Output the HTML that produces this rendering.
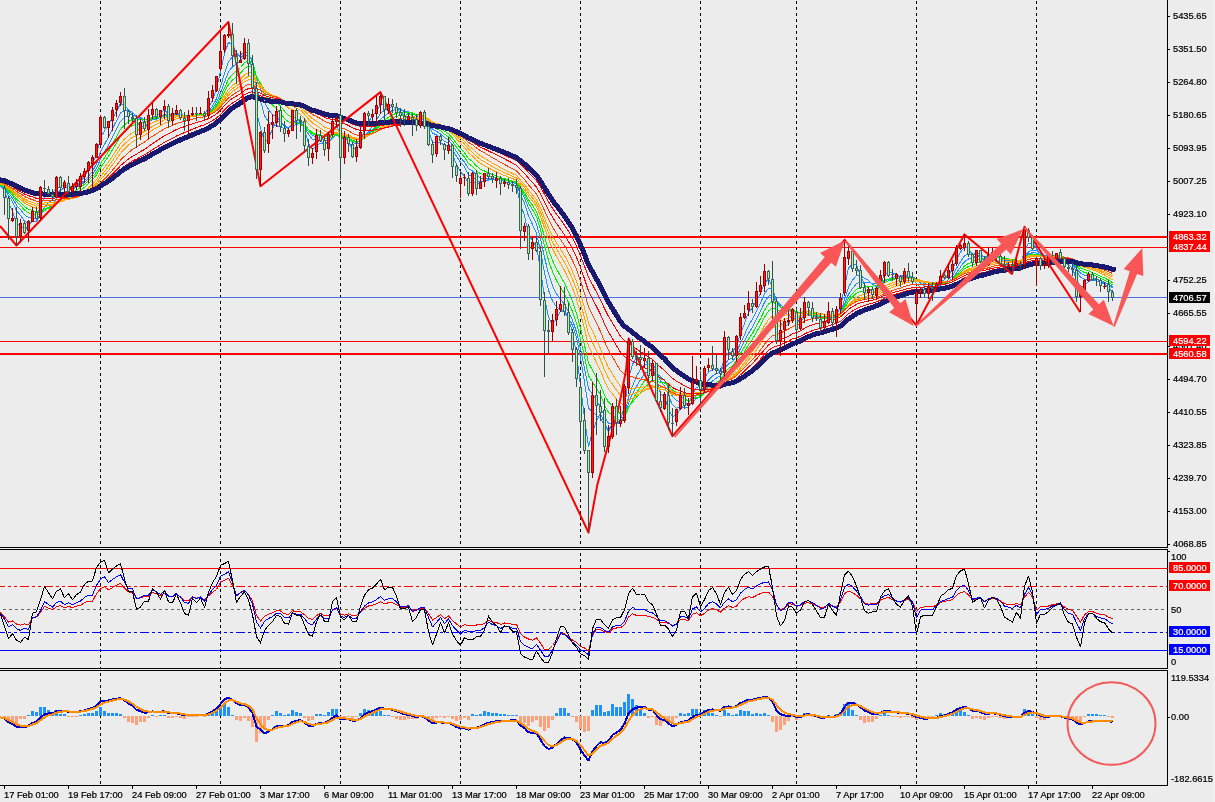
<!DOCTYPE html>
<html><head><meta charset="utf-8"><title>Chart</title>
<style>html,body{margin:0;padding:0;background:#ececec;overflow:hidden}svg{display:block}</style></head>
<body>
<svg width="1215" height="802" viewBox="0 0 1215 802" font-family="'Liberation Sans', Arial, sans-serif" font-size="9.3px">
<rect width="1215" height="802" fill="#ececec"/>
<g stroke="#000" stroke-width="1" stroke-dasharray="3 3" fill="none" shape-rendering="crispEdges">
<path d="M100.5 1V547M100.5 553V668M100.5 673V785"/>
<path d="M220.5 1V547M220.5 553V668M220.5 673V785"/>
<path d="M340.5 1V547M340.5 553V668M340.5 673V785"/>
<path d="M460.5 1V547M460.5 553V668M460.5 673V785"/>
<path d="M580.5 1V547M580.5 553V668M580.5 673V785"/>
<path d="M700.5 1V547M700.5 553V668M700.5 673V785"/>
<path d="M796.5 1V547M796.5 553V668M796.5 673V785"/>
<path d="M916.5 1V547M916.5 553V668M916.5 673V785"/>
<path d="M1036.5 1V547M1036.5 553V668M1036.5 673V785"/>
</g>
<g shape-rendering="crispEdges">
<rect x="0" y="297" width="1167" height="1" fill="#4a6fe0"/>
<rect x="0" y="236" width="1167" height="2" fill="#f00"/>
<rect x="0" y="247" width="1167" height="1" fill="#f00"/>
<rect x="0" y="341" width="1167" height="1" fill="#f00"/>
<rect x="0" y="353" width="1167" height="2" fill="#f00"/>
</g>
<path d="M-3.5 185L0.5 186.2L4.5 190.6L8.5 202.9L12.5 211.2L16.5 223.8L20.5 225.8L24.5 229.3L28.5 226.6L32.5 219.6L36.5 218.2L40.5 204.7L44.5 196.7L48.5 193.7L52.5 193.4L56.5 187.5L60.5 186.9L64.5 184.1L68.5 186.5L72.5 187.2L76.5 185.8L80.5 181.9L84.5 176.5L88.5 169.8L92.5 163.4L96.5 154.6L100.5 137.8L104.5 131.1L108.5 124.9L112.5 117.8L116.5 111.5L120.5 103.6L124.5 105.1L128.5 109.9L132.5 114.7L136.5 124.4L140.5 124.9L144.5 127.3L148.5 122.9L152.5 116.5L156.5 115.6L160.5 112.7L164.5 110L168.5 114.2L172.5 114.1L176.5 113.1L180.5 115.1L184.5 117.3L188.5 117.2L192.5 116L196.5 114.9L200.5 113.6L204.5 114.6L208.5 108.3L212.5 100.3L216.5 89L220.5 71.4L224.5 53.7L228.5 42.2L232.5 45L236.5 52.7L240.5 57.9L244.5 53.8L248.5 57.2L252.5 69.4L256.5 111.8L260.5 127.8L264.5 142.7L268.5 138.2L272.5 129.3L276.5 121L280.5 121.1L284.5 126.3L288.5 128.8L292.5 122.6L296.5 120.7L300.5 119.8L304.5 130L308.5 143.2L312.5 149.7L316.5 145.8L320.5 143.1L324.5 144.5L328.5 140.3L332.5 132.9L336.5 125.3L340.5 136L344.5 137.6L348.5 141.9L352.5 149.1L356.5 148.4L360.5 142.5L364.5 129.8L368.5 121.5L372.5 116.2L376.5 110.9L380.5 104.4L384.5 105.4L388.5 104.6L392.5 105.8L396.5 109.1L400.5 112.2L404.5 116L408.5 116.9L412.5 118.2L416.5 121.6L420.5 118.1L424.5 121.4L428.5 130.9L432.5 141.9L436.5 142.7L440.5 142.7L444.5 145.2L448.5 145.1L452.5 154.4L456.5 164.5L460.5 172.1L464.5 176.1L468.5 184.1L472.5 180.9L476.5 184.2L480.5 183.8L484.5 179.2L488.5 178.3L492.5 177.8L496.5 177.8L500.5 180.4L504.5 181.2L508.5 183L512.5 184.5L516.5 186L520.5 204.3L524.5 215.7L528.5 234.2L532.5 241.2L536.5 246.5L540.5 269.3L544.5 296.9L548.5 317.4L552.5 323.7L556.5 319L560.5 311.4L564.5 309.7L568.5 318.4L572.5 332.6L576.5 354.2L580.5 385.6L584.5 417.6L588.5 446.6L592.5 432.1L596.5 420.7L600.5 413.5L604.5 423.4L608.5 431.7L612.5 424L616.5 423.1L620.5 419.9L624.5 405.9L628.5 378.6L632.5 364.4L636.5 357.1L640.5 357.1L644.5 358.8L648.5 365.6L652.5 365.8L656.5 380.5L660.5 393.7L664.5 396.7L668.5 409.3L672.5 416.4L676.5 415.2L680.5 408L684.5 405.1L688.5 403L692.5 394.5L696.5 387.4L700.5 386.4L704.5 378.1L708.5 372.1L712.5 369.5L716.5 368.9L720.5 371L724.5 357.9L728.5 353L732.5 352.3L736.5 345L740.5 334L744.5 323.3L748.5 312.3L752.5 308L756.5 300.5L760.5 293.1L764.5 283L768.5 279.1L772.5 287.1L776.5 309.9L780.5 322.7L784.5 325.9L788.5 324.5L792.5 316.9L796.5 321L800.5 320.3L804.5 313.3L808.5 310.6L812.5 311.8L816.5 314.9L820.5 321.2L824.5 322.3L828.5 318.2L832.5 319.4L836.5 314.8L840.5 307.7L844.5 286.4L848.5 268.1L852.5 264.1L856.5 264.9L860.5 275.4L864.5 284.8L868.5 288.3L872.5 292.3L876.5 291L880.5 284.5L884.5 274.7L888.5 272.8L892.5 272.8L896.5 273.8L900.5 277.6L904.5 275.4L908.5 276.4L912.5 278.5L916.5 283.9L920.5 287.2L924.5 290.8L928.5 290.2L932.5 289.6L936.5 287.2L940.5 282L944.5 279.6L948.5 274.8L952.5 269.6L956.5 260L960.5 252.2L964.5 246.7L968.5 248.5L972.5 254.7L976.5 254.3L980.5 258L984.5 260.8L988.5 259L992.5 256.5L996.5 255.9L1000.5 258.6L1004.5 262.3L1008.5 264.2L1012.5 265.2L1016.5 264.4L1020.5 264.6L1024.5 250.4L1028.5 243.2L1032.5 243.2L1036.5 248.4L1040.5 257.2L1044.5 261.7L1048.5 260.2L1052.5 258.4L1056.5 255.7L1060.5 256.4L1064.5 260.9L1068.5 264.9L1072.5 267.9L1076.5 280.1L1080.5 286.4L1084.5 285.9L1088.5 281.6L1092.5 279.3L1096.5 278.9L1100.5 282L1104.5 284.3L1108.5 287.7L1112.5 292.3" stroke="#1e90ff" stroke-width="1" fill="none" stroke-linejoin="round" shape-rendering="crispEdges"/>
<path d="M-3.5 185.3L0.5 186L4.5 188.6L8.5 195.6L12.5 201.5L16.5 210.7L20.5 215.3L24.5 221.3L28.5 223.2L32.5 221.8L36.5 221.5L40.5 213.6L44.5 207.1L48.5 202.5L52.5 199.6L56.5 193.1L60.5 190.4L64.5 187.5L68.5 187.5L72.5 187.2L76.5 186.1L80.5 183.6L84.5 180.5L88.5 176.2L92.5 171.1L96.5 164L100.5 151.9L104.5 144.4L108.5 136.9L112.5 128.6L116.5 120.7L120.5 113L124.5 110.6L128.5 110.8L132.5 112.1L136.5 117L140.5 118.7L144.5 122.1L148.5 121.8L152.5 119.8L156.5 119.1L160.5 116.9L164.5 113.9L168.5 114.6L172.5 114L176.5 112.9L180.5 114L184.5 115.8L188.5 115.9L192.5 115.7L196.5 115.5L200.5 114.8L204.5 115.2L208.5 111.4L212.5 106.2L216.5 98.7L220.5 86.8L224.5 73.1L228.5 61.5L232.5 56.9L236.5 55.5L240.5 54.9L244.5 51.5L248.5 54.1L252.5 62.4L256.5 87.9L260.5 100.9L264.5 115.6L268.5 121.7L272.5 125.7L276.5 125.6L280.5 127.1L284.5 128.4L288.5 127.5L292.5 123.4L296.5 122.1L300.5 122L304.5 127.2L308.5 134.5L312.5 139.3L316.5 139.5L320.5 140.9L324.5 144.2L328.5 142.8L332.5 138.1L336.5 132.7L340.5 136.9L344.5 136.4L348.5 138.1L352.5 142.3L356.5 144L360.5 142.2L364.5 136.4L368.5 131.6L372.5 126.3L376.5 120.3L380.5 113L384.5 110.3L388.5 107.6L392.5 106.6L396.5 107.6L400.5 109.4L404.5 111.9L408.5 113.5L412.5 115.6L416.5 118.5L420.5 117.6L424.5 120L428.5 125.8L432.5 133L436.5 135L440.5 137.5L444.5 141.4L448.5 143.4L452.5 149.6L456.5 156.3L460.5 162.2L464.5 166.8L468.5 174.7L472.5 176.3L476.5 180.5L480.5 182.1L484.5 180.8L488.5 180L492.5 179.7L496.5 179.1L500.5 179.7L504.5 180.1L508.5 181.2L512.5 182.4L516.5 184L520.5 194.8L524.5 203L528.5 216.1L532.5 224.5L536.5 233.3L540.5 251.1L544.5 272.5L548.5 290.1L552.5 300.9L556.5 306.9L560.5 309.5L564.5 312.4L568.5 318.1L572.5 325.3L576.5 337.5L580.5 357.9L584.5 382.3L588.5 408L592.5 411.8L596.5 415.6L600.5 418.3L604.5 426.2L608.5 429.1L612.5 423.8L616.5 422.6L620.5 421.5L624.5 414.4L628.5 397.5L632.5 385.9L636.5 376.1L640.5 369.3L644.5 364.2L648.5 364.2L652.5 362.8L656.5 371.4L660.5 381L664.5 385.9L668.5 396L672.5 404.7L676.5 408.2L680.5 407.1L684.5 407.9L688.5 406.9L692.5 401.1L696.5 395.4L700.5 392.5L704.5 385.7L708.5 379.8L712.5 376L716.5 373.4L720.5 372.3L724.5 363.9L728.5 359.8L732.5 357.7L736.5 352.1L740.5 343.3L744.5 334.8L748.5 325.7L752.5 319.2L756.5 311.2L760.5 303.1L764.5 293.7L768.5 288.3L772.5 289.5L776.5 300.1L780.5 307.3L784.5 311.8L788.5 315.7L792.5 316.4L796.5 321.1L800.5 321.5L804.5 317.2L808.5 314.2L812.5 314.3L816.5 315L820.5 317.7L824.5 318.7L828.5 317.1L832.5 318.7L836.5 317.1L840.5 312.9L844.5 299.8L848.5 287.1L852.5 280.3L856.5 275.5L860.5 275.9L864.5 278.1L868.5 280.2L872.5 284.3L876.5 286.8L880.5 285.6L884.5 280.9L888.5 279.3L892.5 277.6L896.5 275.9L900.5 276.4L904.5 274.8L908.5 275.4L912.5 277L916.5 280.7L920.5 283L924.5 286L928.5 287.1L932.5 288.1L936.5 287.9L940.5 285.4L944.5 283.5L948.5 279.8L952.5 275.5L956.5 268.3L960.5 261.8L964.5 255.9L968.5 254L972.5 254.7L976.5 253L980.5 254.6L984.5 257L988.5 257.4L992.5 256.8L996.5 257.1L1000.5 258.5L1004.5 260.2L1008.5 261.5L1012.5 262.6L1016.5 263L1020.5 263.9L1024.5 256.6L1028.5 251.8L1032.5 250L1036.5 250.7L1040.5 253.3L1044.5 255.4L1048.5 255.7L1052.5 256.4L1056.5 256.8L1060.5 257.7L1064.5 259.9L1068.5 261.9L1072.5 263.8L1076.5 271.5L1080.5 277.2L1084.5 279.5L1088.5 279.6L1092.5 280.4L1096.5 280.8L1100.5 282.3L1104.5 283L1108.5 284.6L1112.5 287.7" stroke="#1e90ff" stroke-width="1" fill="none" stroke-linejoin="round" shape-rendering="crispEdges"/>
<path d="M-3.5 185.1L0.5 185.6L4.5 187.7L8.5 193.1L12.5 197.9L16.5 205.2L20.5 209.5L24.5 214.8L28.5 217.5L32.5 217.9L36.5 219.2L40.5 214.8L44.5 210.7L48.5 207.4L52.5 204.5L56.5 198.7L60.5 195.3L64.5 191.8L68.5 190.4L72.5 188.8L76.5 187.2L80.5 184.8L84.5 182.3L88.5 178.5L92.5 174.3L96.5 168.5L100.5 158.9L104.5 152.1L108.5 145.1L112.5 137.1L116.5 129.2L120.5 121.3L124.5 117.4L128.5 115.4L132.5 114.5L136.5 116.9L140.5 117.5L144.5 119.6L148.5 119.3L152.5 118.1L156.5 118.4L160.5 117.4L164.5 115.8L168.5 116.4L172.5 115.6L176.5 114.3L180.5 114.4L184.5 115.3L188.5 115.3L192.5 115.1L196.5 115.1L200.5 114.8L204.5 115.2L208.5 112.4L212.5 108.5L216.5 102.6L220.5 93.2L224.5 82L228.5 71.9L232.5 66.7L236.5 63.7L240.5 60.9L244.5 56.1L248.5 55.8L252.5 60.3L256.5 78.6L260.5 89.3L264.5 102.3L268.5 109.4L272.5 114.8L276.5 117L280.5 121.1L284.5 125.4L288.5 127.8L292.5 125.7L296.5 124.6L300.5 123.1L304.5 126.5L308.5 131.6L312.5 135.7L316.5 136.5L320.5 138.1L324.5 140.7L328.5 140.4L332.5 137.9L336.5 134.9L340.5 138.5L344.5 138L348.5 138.6L352.5 141.3L356.5 142.4L360.5 140.9L364.5 136.5L368.5 133L372.5 129.6L376.5 125.1L380.5 119.3L384.5 116.2L388.5 112.8L392.5 110.3L396.5 109.4L400.5 109.7L404.5 111.1L408.5 112L412.5 113.5L416.5 116L420.5 116L424.5 118.3L428.5 123.2L432.5 129.2L436.5 131.4L440.5 133.9L444.5 137.6L448.5 139.8L452.5 145.3L456.5 151.5L460.5 157.4L464.5 162.1L468.5 168.8L472.5 170.9L476.5 175.3L480.5 178L484.5 178.5L488.5 179.2L492.5 179.7L496.5 179.6L500.5 180.2L504.5 180.4L508.5 181.1L512.5 181.8L516.5 182.9L520.5 191L524.5 197.7L528.5 208.3L532.5 215.8L536.5 223.9L540.5 239L544.5 257.4L548.5 273.7L552.5 285.7L556.5 293.8L560.5 299.3L564.5 304.3L568.5 311.6L572.5 320.1L576.5 331.9L580.5 348.9L584.5 368.1L588.5 388.7L592.5 394.2L596.5 400.6L600.5 406.9L604.5 417.1L608.5 423.4L612.5 422.9L616.5 424.1L620.5 423.6L624.5 416.9L628.5 403.2L632.5 393.8L636.5 386.3L640.5 379.8L644.5 373.6L648.5 371.2L652.5 367.8L656.5 371.8L660.5 376.9L664.5 380.1L668.5 388.5L672.5 396.5L676.5 400.7L680.5 401.7L684.5 404L688.5 405.2L692.5 402.2L696.5 398.5L700.5 396.4L704.5 390.9L708.5 385.4L712.5 381L716.5 377.9L720.5 375.9L724.5 368.4L728.5 364L732.5 361.5L736.5 356.2L740.5 348.6L744.5 341.2L748.5 333.4L752.5 327L756.5 319L760.5 311.2L764.5 302.3L768.5 296.2L772.5 294.8L776.5 300.8L780.5 305.1L784.5 308L788.5 310.7L792.5 311.5L796.5 315.6L800.5 317.5L804.5 316.2L808.5 315.7L812.5 316.2L816.5 316.4L820.5 317.7L824.5 318.1L828.5 317L832.5 318L836.5 316.7L840.5 313.5L844.5 304L848.5 294.4L852.5 288.6L856.5 283.6L860.5 282.3L864.5 282.3L868.5 282.1L872.5 283.5L876.5 283.9L880.5 282.6L884.5 279.8L888.5 279.7L892.5 279.2L896.5 278.3L900.5 278.4L904.5 276.7L908.5 276.4L912.5 276.8L916.5 279.1L920.5 281L924.5 283.7L928.5 285L932.5 286.2L936.5 286.4L940.5 285L944.5 284L948.5 281.7L952.5 278.4L956.5 272.7L960.5 267L964.5 261.7L968.5 259L972.5 258.3L976.5 255.9L980.5 256L984.5 256.9L988.5 256.4L992.5 255.7L996.5 256L1000.5 257.7L1004.5 259.5L1008.5 260.7L1012.5 261.7L1016.5 262.1L1020.5 262.9L1024.5 257.5L1028.5 254L1032.5 252.7L1036.5 253.1L1040.5 254.7L1044.5 255.8L1048.5 255.5L1052.5 255.5L1056.5 255.2L1060.5 256L1064.5 258.2L1068.5 260.7L1072.5 262.7L1076.5 268.7L1080.5 273.2L1084.5 275.2L1088.5 276L1092.5 277.6L1096.5 278.9L1100.5 280.9L1104.5 282.2L1108.5 284.1L1112.5 286.7" stroke="#1e90ff" stroke-width="1" fill="none" stroke-linejoin="round" shape-rendering="crispEdges"/>
<path d="M-3.5 184.8L0.5 185.3L4.5 187L8.5 191.5L12.5 195.5L16.5 201.6L20.5 205.4L24.5 210.2L28.5 212.8L32.5 213.8L36.5 215.6L40.5 212.8L44.5 210.3L48.5 208.5L52.5 206.9L56.5 202.6L60.5 199.7L64.5 196.3L68.5 194.4L72.5 192.2L76.5 190L80.5 187.2L84.5 184.2L88.5 180.6L92.5 176.8L96.5 171.9L100.5 163.6L104.5 157.7L108.5 151.4L112.5 144.2L116.5 136.9L120.5 129.4L124.5 124.7L128.5 121.6L132.5 119.4L136.5 120L140.5 119.1L144.5 119.8L148.5 118.8L152.5 117.5L156.5 117.5L160.5 116.7L164.5 115.5L168.5 116.4L172.5 116.1L176.5 115.4L180.5 115.5L184.5 116L188.5 115.7L192.5 115.2L196.5 114.9L200.5 114.6L204.5 114.9L208.5 112.8L212.5 109.7L216.5 105L220.5 97.3L224.5 87.9L228.5 79.3L232.5 74.4L236.5 70.9L240.5 67.5L244.5 62.5L248.5 60.9L252.5 63L256.5 76.2L260.5 83.8L264.5 93.8L268.5 99.7L272.5 105L276.5 108.4L280.5 113.5L284.5 118.5L288.5 122L292.5 122.2L296.5 123.4L300.5 124.1L304.5 127.3L308.5 131.3L312.5 133.9L316.5 134.4L320.5 135.6L324.5 138.2L328.5 138.4L332.5 136.7L336.5 134.5L340.5 137.7L344.5 137.8L348.5 139L352.5 141.4L356.5 142.3L360.5 140.8L364.5 137L368.5 134L372.5 131.1L376.5 127.2L380.5 122.5L384.5 120.1L388.5 117.2L392.5 114.8L396.5 113.2L400.5 112.6L404.5 112.6L408.5 112.4L412.5 113L416.5 114.7L420.5 114.6L424.5 116.5L428.5 120.7L432.5 126L436.5 128.3L440.5 130.8L444.5 134.3L448.5 136.7L452.5 141.6L456.5 147.2L460.5 152.5L464.5 157.1L468.5 163.5L472.5 166.3L476.5 170.8L480.5 173.6L484.5 174.8L488.5 176.1L492.5 177.6L496.5 178.4L500.5 179.6L504.5 180.2L508.5 181L512.5 181.7L516.5 182.6L520.5 189.1L524.5 194.4L528.5 203.1L532.5 209.6L536.5 216.7L540.5 229.8L544.5 245.7L548.5 260.3L552.5 271.8L556.5 280.5L560.5 287.4L564.5 294.1L568.5 302.4L572.5 311.6L576.5 323.1L580.5 339L584.5 356.8L588.5 375.7L592.5 382L596.5 388.5L600.5 394.9L604.5 404.9L608.5 412.5L612.5 415L616.5 418.8L620.5 421L624.5 417.7L628.5 407.9L632.5 400.2L636.5 392.9L640.5 386.6L644.5 380.8L648.5 378.5L652.5 374.6L656.5 376.3L660.5 378.9L664.5 380.1L668.5 385.6L672.5 391L676.5 394.4L680.5 396L684.5 399L688.5 401L692.5 399.8L696.5 397.9L700.5 397.3L704.5 393.4L708.5 389.2L712.5 385.6L716.5 382.5L720.5 380.1L724.5 373.1L728.5 368.6L732.5 365.7L736.5 360.5L740.5 353.4L744.5 346.7L748.5 339.4L752.5 333.4L756.5 325.9L760.5 318.7L764.5 310.3L768.5 303.9L772.5 301.3L776.5 304.7L780.5 306.9L784.5 308L788.5 309.2L792.5 309.3L796.5 312.5L800.5 314L804.5 313.2L808.5 313.3L812.5 314.6L816.5 315.9L820.5 318L824.5 318.6L828.5 317.6L832.5 317.9L836.5 316.7L840.5 314.2L844.5 306.4L848.5 298.4L852.5 293.4L856.5 289.2L860.5 287.7L864.5 287.1L868.5 286.1L872.5 286.1L876.5 285.5L880.5 283.5L884.5 280.2L888.5 279.1L892.5 278.5L896.5 278L900.5 278.8L904.5 277.9L908.5 277.8L912.5 278L916.5 279.4L920.5 280.5L924.5 282.3L928.5 283.2L932.5 284.3L936.5 284.8L940.5 284.1L944.5 283.6L948.5 281.9L952.5 279.5L956.5 275L960.5 270.6L964.5 266.1L968.5 263.4L972.5 262.2L976.5 259.5L980.5 258.8L984.5 258.7L988.5 257.6L992.5 256.4L996.5 256.1L1000.5 256.9L1004.5 258.2L1008.5 259.4L1012.5 260.6L1016.5 261.3L1020.5 262.1L1024.5 257.9L1028.5 255.1L1032.5 254L1036.5 254.3L1040.5 255.5L1044.5 256.4L1048.5 256.2L1052.5 256L1056.5 255.5L1060.5 255.8L1064.5 257.3L1068.5 259L1072.5 260.7L1076.5 266L1080.5 270.3L1084.5 272.5L1088.5 273.5L1092.5 274.9L1096.5 276.3L1100.5 278.4L1104.5 280.1L1108.5 282.3L1112.5 285" stroke="#00f000" stroke-width="1" fill="none" stroke-linejoin="round" shape-rendering="crispEdges"/>
<path d="M-3.5 184.4L0.5 184.9L4.5 186.5L8.5 190.2L12.5 193.7L16.5 199L20.5 202.4L24.5 206.6L28.5 209.2L32.5 210.4L36.5 212.2L40.5 210.4L44.5 208.8L48.5 207.6L52.5 206.8L56.5 203.6L60.5 201.7L64.5 199.2L68.5 197.7L72.5 195.7L76.5 193.3L80.5 190.4L84.5 187.3L88.5 183.6L92.5 179.7L96.5 174.9L100.5 167.5L104.5 162L108.5 156.3L112.5 149.8L116.5 143.1L120.5 136.1L124.5 131.6L128.5 128.1L132.5 125.2L136.5 124.6L140.5 122.8L144.5 122.3L148.5 120.6L152.5 118.7L156.5 117.9L160.5 116.8L164.5 115.5L168.5 116.1L172.5 115.8L176.5 115.3L180.5 115.6L184.5 116.3L188.5 116.3L192.5 115.8L196.5 115.5L200.5 115L204.5 115L208.5 113.1L212.5 110.4L216.5 106.4L220.5 100L224.5 92L228.5 84.6L232.5 80.1L236.5 76.7L240.5 73.3L244.5 68.4L248.5 66.3L252.5 67.1L256.5 77.3L260.5 82.9L264.5 90.4L268.5 94.8L272.5 98.8L276.5 101.6L280.5 106.1L284.5 111.2L288.5 115.4L292.5 116.8L296.5 119L300.5 120.7L304.5 124.6L308.5 129.4L312.5 132.9L316.5 133.8L320.5 134.8L324.5 136.5L328.5 136.6L332.5 135.3L336.5 133.7L340.5 136.7L344.5 137L348.5 138.1L352.5 140.4L356.5 141.5L360.5 140.7L364.5 137.8L368.5 135.3L372.5 132.5L376.5 129L380.5 124.8L384.5 122.6L388.5 119.9L392.5 117.7L396.5 116.4L400.5 115.6L404.5 115.3L408.5 114.5L412.5 114.4L416.5 115.2L420.5 114.4L424.5 115.7L428.5 119L432.5 123.4L436.5 125.5L440.5 127.9L444.5 131.3L448.5 133.7L452.5 138.2L456.5 143.4L460.5 148.4L464.5 152.7L468.5 158.6L472.5 161.6L476.5 166L480.5 169.2L484.5 171L488.5 172.9L492.5 174.6L496.5 175.8L500.5 177.5L504.5 178.7L508.5 180L512.5 181.1L516.5 182.1L520.5 187.7L524.5 192.3L528.5 199.7L532.5 205.3L536.5 211.5L540.5 222.8L544.5 236.6L548.5 249.7L552.5 260.4L556.5 268.9L560.5 276.1L564.5 283.2L568.5 291.9L572.5 301.5L576.5 313.1L580.5 328.3L584.5 345.2L588.5 362.8L592.5 370.1L596.5 377.7L600.5 385L604.5 394.9L608.5 402.3L612.5 405.5L616.5 410.2L620.5 413.8L624.5 413.1L628.5 406.9L632.5 402.1L636.5 397.2L640.5 392.4L644.5 387.3L648.5 384.2L652.5 380.1L656.5 380.8L660.5 382.6L664.5 382.9L668.5 386.5L672.5 390.1L676.5 392.2L680.5 392.9L684.5 394.9L688.5 396.7L692.5 396.2L696.5 395.4L700.5 395.6L704.5 393.2L708.5 390.3L712.5 387.8L716.5 385.6L720.5 383.6L724.5 377.5L728.5 373.3L732.5 370.1L736.5 365L740.5 358.3L744.5 351.9L748.5 345L752.5 339L756.5 332.1L760.5 325.1L764.5 317.3L768.5 311L772.5 308L776.5 309.8L780.5 310.5L784.5 310.4L788.5 310.6L792.5 309.9L796.5 311.8L800.5 312.4L804.5 311.5L808.5 311.5L812.5 312.6L816.5 313.9L820.5 315.9L824.5 317.1L828.5 317.1L832.5 318.1L836.5 317.3L840.5 315L844.5 308.2L848.5 301.3L852.5 296.9L856.5 293.1L860.5 291.5L864.5 290.6L868.5 289.5L872.5 289.3L876.5 288.3L880.5 286L884.5 282.5L888.5 280.9L892.5 279.7L896.5 278.6L900.5 278.5L904.5 277.6L908.5 277.7L912.5 278.3L916.5 279.8L920.5 280.8L924.5 282.3L928.5 282.8L932.5 283.5L936.5 283.7L940.5 283L944.5 282.7L948.5 281.5L952.5 279.7L956.5 276.2L960.5 272.5L964.5 268.7L968.5 266.5L972.5 265.4L976.5 262.9L980.5 261.9L984.5 261.3L988.5 259.8L992.5 258.3L996.5 257.5L1000.5 257.7L1004.5 258.3L1008.5 258.9L1012.5 259.6L1016.5 260.2L1020.5 261L1024.5 257.8L1028.5 255.7L1032.5 254.9L1036.5 255L1040.5 256L1044.5 256.8L1048.5 256.5L1052.5 256.4L1056.5 256L1060.5 256.2L1064.5 257.3L1068.5 258.5L1072.5 259.8L1076.5 264.1L1080.5 267.6L1084.5 269.6L1088.5 270.9L1092.5 272.7L1096.5 274.3L1100.5 276.2L1104.5 277.9L1108.5 280L1112.5 282.6" stroke="#00f000" stroke-width="1" fill="none" stroke-linejoin="round" shape-rendering="crispEdges"/>
<path d="M-3.5 183.9L0.5 184.4L4.5 185.7L8.5 188.9L12.5 191.8L16.5 196.3L20.5 199.3L24.5 203L28.5 205.4L32.5 206.6L36.5 208.5L40.5 207.3L44.5 206.4L48.5 205.8L52.5 205.4L56.5 203.2L60.5 201.9L64.5 200.2L68.5 199.3L72.5 198L76.5 196.4L80.5 194.1L84.5 191.4L88.5 187.9L92.5 184.2L96.5 179.6L100.5 172.8L104.5 167.5L108.5 162L112.5 156L116.5 149.8L120.5 143.5L124.5 139.1L128.5 135.5L132.5 132.4L136.5 131.1L140.5 128.9L144.5 127.5L148.5 125.2L152.5 122.6L156.5 121L160.5 119.2L164.5 117.3L168.5 117L172.5 116.3L176.5 115.5L180.5 115.5L184.5 116.1L188.5 116L192.5 115.8L196.5 115.7L200.5 115.5L204.5 115.6L208.5 113.9L212.5 111.6L216.5 108.1L220.5 102.5L224.5 95.8L228.5 89.5L232.5 85.5L236.5 82.4L240.5 79.3L244.5 74.8L248.5 72.6L252.5 72.7L256.5 80.4L260.5 84.3L264.5 89.9L268.5 92.9L272.5 95.7L276.5 97.5L280.5 100.8L284.5 104.6L288.5 108L292.5 109.5L296.5 111.9L300.5 114.3L304.5 118.7L308.5 123.7L312.5 127.8L316.5 129.7L320.5 131.9L324.5 134.5L328.5 135.3L332.5 134.6L336.5 133.2L340.5 135.4L344.5 135.7L348.5 136.7L352.5 138.8L356.5 140L360.5 139.6L364.5 137.4L368.5 135.6L372.5 133.7L376.5 131L380.5 127.6L384.5 125.5L388.5 122.9L392.5 120.8L396.5 119.4L400.5 118.5L404.5 117.9L408.5 117.2L412.5 116.9L416.5 117.3L420.5 116.3L424.5 116.8L428.5 119L432.5 122L436.5 123.4L440.5 125.3L444.5 128L448.5 130.2L452.5 134.2L456.5 138.8L460.5 143.4L464.5 147.6L468.5 152.9L472.5 156L476.5 160.3L480.5 163.5L484.5 165.7L488.5 167.9L492.5 170.1L496.5 171.9L500.5 173.9L504.5 175.5L508.5 177.2L512.5 178.6L516.5 180.1L520.5 185.3L524.5 189.6L528.5 196.1L532.5 201.2L536.5 206.6L540.5 216.1L544.5 227.9L548.5 239.1L552.5 248.5L556.5 256.4L560.5 263.3L564.5 270.4L568.5 278.8L572.5 288.1L576.5 299.2L580.5 313.5L584.5 329.2L588.5 345.9L592.5 354.2L596.5 362.6L600.5 370.7L604.5 380.9L608.5 389.1L612.5 393.8L616.5 399.3L620.5 403.8L624.5 404.4L628.5 400.6L632.5 398.2L636.5 395.7L640.5 393.3L644.5 390.5L648.5 389.1L652.5 386.2L656.5 386.7L660.5 387.5L664.5 387L668.5 389.2L672.5 391.7L676.5 392.9L680.5 392.9L684.5 393.8L688.5 394.6L692.5 393.6L696.5 392.6L700.5 392.6L704.5 390.9L708.5 389L712.5 387.6L716.5 386.4L720.5 385.3L724.5 380.7L728.5 377.5L732.5 374.9L736.5 370.5L740.5 364.5L744.5 358.6L748.5 352.1L752.5 346.3L756.5 339.7L760.5 333.1L764.5 325.7L768.5 319.6L772.5 316L776.5 316.6L780.5 316.3L784.5 315.3L788.5 314.6L792.5 313.1L796.5 313.8L800.5 313.5L804.5 312L808.5 311.4L812.5 311.7L816.5 312.4L820.5 313.9L824.5 314.9L828.5 315L832.5 316.1L836.5 315.9L840.5 314.7L844.5 309.7L848.5 304.4L852.5 300.7L856.5 297.2L860.5 295.5L864.5 294.4L868.5 293.1L872.5 292.6L876.5 291.4L880.5 289.2L884.5 286.1L888.5 284.4L892.5 282.8L896.5 281.3L900.5 280.6L904.5 279.2L908.5 278.6L912.5 278.4L916.5 279.4L920.5 280.2L924.5 281.6L928.5 282.4L932.5 283.2L936.5 283.4L940.5 282.8L944.5 282.3L948.5 281.2L952.5 279.6L956.5 276.7L960.5 273.7L964.5 270.7L968.5 268.9L972.5 267.9L976.5 265.9L980.5 265L984.5 264.3L988.5 262.9L992.5 261.3L996.5 260.3L1000.5 259.9L1004.5 259.9L1008.5 259.9L1012.5 260.1L1016.5 260.1L1020.5 260.4L1024.5 257.6L1028.5 255.7L1032.5 255L1036.5 255.3L1040.5 256.2L1044.5 257L1048.5 256.8L1052.5 256.7L1056.5 256.3L1060.5 256.5L1064.5 257.4L1068.5 258.4L1072.5 259.5L1076.5 263L1080.5 265.8L1084.5 267.4L1088.5 268.4L1092.5 269.8L1096.5 271.3L1100.5 273.3L1104.5 275L1108.5 277.3L1112.5 279.8" stroke="#ffa500" stroke-width="1" fill="none" stroke-linejoin="round" shape-rendering="crispEdges"/>
<path d="M-3.5 183.4L0.5 183.9L4.5 185.2L8.5 188L12.5 190.7L16.5 194.7L20.5 197.4L24.5 200.8L28.5 203.1L32.5 204.4L36.5 206.2L40.5 205.3L44.5 204.6L48.5 204.3L52.5 204.1L56.5 202.4L60.5 201.4L64.5 200.1L68.5 199.5L72.5 198.4L76.5 197.2L80.5 195.3L84.5 193.1L88.5 190.2L92.5 187L96.5 182.9L100.5 176.7L104.5 171.7L108.5 166.4L112.5 160.5L116.5 154.6L120.5 148.4L124.5 144L128.5 140.4L132.5 137.2L136.5 135.6L140.5 133.2L144.5 131.6L148.5 129L152.5 126.3L156.5 124.4L160.5 122.2L164.5 119.9L168.5 119.2L172.5 117.9L176.5 116.7L180.5 116.3L184.5 116.4L188.5 116.1L192.5 115.8L196.5 115.7L200.5 115.4L204.5 115.5L208.5 114.2L212.5 112.3L216.5 109.3L220.5 104.3L224.5 98.3L228.5 92.5L232.5 88.7L236.5 85.7L240.5 82.7L244.5 78.6L248.5 76.4L252.5 76.2L256.5 82.7L260.5 85.9L264.5 90.6L268.5 93L272.5 95.2L276.5 96.6L280.5 99.2L284.5 102.3L288.5 105.1L292.5 106.2L296.5 108.2L300.5 110.2L304.5 114.2L308.5 118.9L312.5 123L316.5 125.5L320.5 128.1L324.5 131.1L328.5 132.5L332.5 132.5L336.5 132.1L340.5 134.7L344.5 135.2L348.5 136.1L352.5 137.9L356.5 138.9L360.5 138.5L364.5 136.8L368.5 135.4L372.5 133.8L376.5 131.5L380.5 128.5L384.5 126.9L388.5 124.8L392.5 122.9L396.5 121.5L400.5 120.4L404.5 119.8L408.5 118.9L412.5 118.5L416.5 118.6L420.5 117.6L424.5 118L428.5 119.8L432.5 122.4L436.5 123.3L440.5 124.7L444.5 126.8L448.5 128.5L452.5 132L456.5 136.1L460.5 140.3L464.5 144.1L468.5 149.1L472.5 152.2L476.5 156.3L480.5 159.6L484.5 161.9L488.5 164.3L492.5 166.6L496.5 168.6L500.5 170.8L504.5 172.6L508.5 174.5L512.5 176.3L516.5 178L520.5 182.9L524.5 187.1L528.5 193.2L532.5 198L536.5 203.3L540.5 212.1L544.5 222.8L548.5 233.1L552.5 241.7L556.5 249.1L560.5 255.6L564.5 262.3L568.5 270.3L572.5 279.1L576.5 289.7L580.5 303.1L584.5 318L588.5 333.7L592.5 342.3L596.5 351L600.5 359.5L604.5 369.9L608.5 378.6L612.5 384.1L616.5 390.3L620.5 395.5L624.5 397.4L628.5 395.2L632.5 393.9L636.5 392.4L640.5 390.9L644.5 389.1L648.5 388.7L652.5 387L656.5 388.2L660.5 389.6L664.5 389.6L668.5 391.7L672.5 393.7L676.5 394.3L680.5 393.8L684.5 394.3L688.5 394.9L692.5 393.7L696.5 392.4L700.5 392.1L704.5 390.2L708.5 388.2L712.5 386.8L716.5 385.7L720.5 384.9L724.5 381.3L728.5 378.8L732.5 376.7L736.5 373L740.5 368L744.5 362.7L748.5 356.8L752.5 351.4L756.5 345.2L760.5 338.8L764.5 331.6L768.5 325.6L772.5 321.9L776.5 321.7L780.5 320.8L784.5 319.4L788.5 318.2L792.5 316.3L796.5 316.4L800.5 315.7L804.5 313.9L808.5 312.8L812.5 312.6L816.5 312.8L820.5 313.8L824.5 314.2L828.5 314.1L832.5 314.9L836.5 314.8L840.5 313.7L844.5 309.5L848.5 304.9L852.5 301.9L856.5 299.2L860.5 297.9L864.5 296.9L868.5 295.6L872.5 294.8L876.5 293.6L880.5 291.5L884.5 288.5L888.5 286.8L892.5 285.1L896.5 283.6L900.5 282.8L904.5 281.2L908.5 280.3L912.5 279.8L916.5 280.3L920.5 280.6L924.5 281.5L928.5 281.9L932.5 282.5L936.5 282.8L940.5 282.5L944.5 282.3L948.5 281.3L952.5 279.9L956.5 277.2L960.5 274.5L964.5 271.7L968.5 270L972.5 269.1L976.5 267.3L980.5 266.5L984.5 265.9L988.5 264.6L992.5 263.2L996.5 262.1L1000.5 261.8L1004.5 261.6L1008.5 261.3L1012.5 261.2L1016.5 261L1020.5 261L1024.5 258.2L1028.5 256.3L1032.5 255.5L1036.5 255.5L1040.5 256.2L1044.5 256.8L1048.5 256.7L1052.5 256.7L1056.5 256.5L1060.5 256.7L1064.5 257.5L1068.5 258.4L1072.5 259.3L1076.5 262.3L1080.5 264.8L1084.5 266.3L1088.5 267.3L1092.5 268.6L1096.5 269.8L1100.5 271.6L1104.5 273.2L1108.5 275.1L1112.5 277.5" stroke="#ffa500" stroke-width="1" fill="none" stroke-linejoin="round" shape-rendering="crispEdges"/>
<path d="M-3.5 183L0.5 183.5L4.5 184.6L8.5 187.2L12.5 189.7L16.5 193.4L20.5 195.9L24.5 199L28.5 201.1L32.5 202.4L36.5 204.1L40.5 203.5L44.5 203L48.5 202.9L52.5 202.9L56.5 201.4L60.5 200.7L64.5 199.6L68.5 199.2L72.5 198.4L76.5 197.4L80.5 195.8L84.5 193.9L88.5 191.5L92.5 188.7L96.5 185.1L100.5 179.6L104.5 175.2L108.5 170.4L112.5 164.9L116.5 159.2L120.5 153.3L124.5 148.8L128.5 145.1L132.5 141.7L136.5 139.9L140.5 137.3L144.5 135.4L148.5 132.8L152.5 130L156.5 127.9L160.5 125.6L164.5 123.2L168.5 122L172.5 120.5L176.5 118.9L180.5 118.1L184.5 117.7L188.5 117L192.5 116.4L196.5 116L200.5 115.6L204.5 115.5L208.5 114.3L212.5 112.5L216.5 109.9L220.5 105.5L224.5 100.2L228.5 95L232.5 91.5L236.5 88.7L240.5 85.8L244.5 81.8L248.5 79.6L252.5 79.2L256.5 84.9L260.5 87.6L264.5 91.6L268.5 93.6L272.5 95.4L276.5 96.4L280.5 98.6L284.5 101.3L288.5 103.6L292.5 104.4L296.5 106L300.5 107.7L304.5 111.1L308.5 115.2L312.5 118.9L316.5 121.2L320.5 123.8L324.5 127L328.5 128.8L332.5 129.5L336.5 129.7L340.5 132.5L344.5 133.6L348.5 135L352.5 137.1L356.5 138.2L360.5 137.9L364.5 136.3L368.5 135L372.5 133.6L376.5 131.6L380.5 129.1L384.5 127.6L388.5 125.8L392.5 124.1L396.5 123L400.5 122.1L404.5 121.5L408.5 120.6L412.5 120L416.5 120L420.5 118.9L424.5 119.1L428.5 120.6L432.5 122.8L436.5 123.6L440.5 124.8L444.5 126.6L448.5 127.9L452.5 130.8L456.5 134.3L460.5 137.9L464.5 141.3L468.5 145.9L472.5 148.8L476.5 152.6L480.5 155.8L484.5 158.2L488.5 160.7L492.5 163.1L496.5 165.2L500.5 167.6L504.5 169.6L508.5 171.6L512.5 173.5L516.5 175.4L520.5 180.2L524.5 184.3L528.5 190.2L532.5 194.8L536.5 199.8L540.5 208.1L544.5 218.1L548.5 227.7L552.5 235.9L556.5 242.9L560.5 249.1L564.5 255.5L568.5 263L572.5 271.3L576.5 281.3L580.5 293.8L584.5 307.8L588.5 322.6L592.5 331.1L596.5 339.8L600.5 348.5L604.5 358.8L608.5 367.8L612.5 373.9L616.5 380.6L620.5 386.5L624.5 389.4L628.5 388.4L632.5 388.4L636.5 388L640.5 387.6L644.5 386.7L648.5 386.8L652.5 385.7L656.5 387.3L660.5 389.2L664.5 389.9L668.5 392.4L672.5 394.7L676.5 395.6L680.5 395.3L684.5 395.7L688.5 395.8L692.5 394.4L696.5 393L700.5 392.6L704.5 390.7L708.5 388.6L712.5 386.9L716.5 385.7L720.5 384.7L724.5 381.3L728.5 379L732.5 377.3L736.5 374.3L740.5 369.9L744.5 365.4L748.5 360.3L752.5 355.5L756.5 349.8L760.5 343.9L764.5 337.2L768.5 331.4L772.5 327.5L776.5 326.8L780.5 325.4L784.5 323.7L788.5 322.1L792.5 319.9L796.5 319.5L800.5 318.4L804.5 316.4L808.5 315L812.5 314.4L816.5 314.2L820.5 314.6L824.5 314.7L828.5 314.2L832.5 314.7L836.5 314.3L840.5 313.2L844.5 309.3L848.5 305.1L852.5 302.5L856.5 300.1L860.5 299L864.5 298.3L868.5 297.3L872.5 296.8L876.5 295.7L880.5 293.6L884.5 290.7L888.5 288.9L892.5 287.3L896.5 285.7L900.5 284.8L904.5 283.2L908.5 282.2L912.5 281.6L916.5 281.8L920.5 281.8L924.5 282.3L928.5 282.3L932.5 282.6L936.5 282.6L940.5 282L944.5 281.8L948.5 281.1L952.5 280L956.5 277.7L960.5 275.3L964.5 272.8L968.5 271.1L972.5 270.2L976.5 268.4L980.5 267.6L984.5 267.1L988.5 265.9L992.5 264.6L996.5 263.6L1000.5 263.2L1004.5 263L1008.5 262.7L1012.5 262.5L1016.5 262.2L1020.5 262L1024.5 259.3L1028.5 257.4L1032.5 256.4L1036.5 256.2L1040.5 256.6L1044.5 256.9L1048.5 256.7L1052.5 256.6L1056.5 256.4L1060.5 256.6L1064.5 257.4L1068.5 258.3L1072.5 259.2L1076.5 261.9L1080.5 264.1L1084.5 265.5L1088.5 266.3L1092.5 267.5L1096.5 268.8L1100.5 270.4L1104.5 271.8L1108.5 273.6L1112.5 275.7" stroke="#ffa500" stroke-width="1" fill="none" stroke-linejoin="round" shape-rendering="crispEdges"/>
<path d="M-3.5 182.2L0.5 182.7L4.5 183.8L8.5 186.1L12.5 188.2L16.5 191.4L20.5 193.7L24.5 196.5L28.5 198.4L32.5 199.6L36.5 201.2L40.5 200.9L44.5 200.6L48.5 200.7L52.5 200.8L56.5 199.7L60.5 199.3L64.5 198.5L68.5 198.3L72.5 197.8L76.5 197.1L80.5 195.9L84.5 194.4L88.5 192.5L92.5 190.2L96.5 187.3L100.5 182.7L104.5 179L108.5 174.9L112.5 170.3L116.5 165.4L120.5 160.2L124.5 156.2L128.5 152.6L132.5 149.2L136.5 147.1L140.5 144.2L144.5 142L148.5 139.1L152.5 136.1L156.5 133.8L160.5 131.2L164.5 128.7L168.5 127.2L172.5 125.4L176.5 123.5L180.5 122.3L184.5 121.4L188.5 120.3L192.5 119.1L196.5 118.2L200.5 117.3L204.5 116.8L208.5 115.3L212.5 113.5L216.5 110.9L220.5 107L224.5 102.4L228.5 97.9L232.5 94.9L236.5 92.4L240.5 89.9L244.5 86.4L248.5 84.4L252.5 83.8L256.5 88.2L260.5 90.2L264.5 93.4L268.5 94.9L272.5 96.2L276.5 97L280.5 98.7L284.5 100.8L288.5 102.6L292.5 103.1L296.5 104.3L300.5 105.6L304.5 108.3L308.5 111.6L312.5 114.6L316.5 116.4L320.5 118.6L324.5 121.3L328.5 122.9L332.5 123.7L336.5 124.3L340.5 127.3L344.5 128.9L348.5 130.8L352.5 133.3L356.5 135L360.5 135.5L364.5 134.8L368.5 134.2L372.5 133.3L376.5 131.8L380.5 129.6L384.5 128.3L388.5 126.7L392.5 125.4L396.5 124.4L400.5 123.8L404.5 123.3L408.5 122.6L412.5 122.1L416.5 122.1L420.5 121.1L424.5 121.1L428.5 122.2L432.5 123.9L436.5 124.4L440.5 125.2L444.5 126.6L448.5 127.7L452.5 130L456.5 132.9L460.5 135.9L464.5 138.7L468.5 142.4L472.5 144.8L476.5 148L480.5 150.8L484.5 152.9L488.5 155.3L492.5 157.7L496.5 159.9L500.5 162.3L504.5 164.4L508.5 166.6L512.5 168.7L516.5 170.8L520.5 175.3L524.5 179.3L528.5 184.8L532.5 189.3L536.5 194.1L540.5 201.6L544.5 210.7L548.5 219.4L552.5 227L556.5 233.5L560.5 239.5L564.5 245.6L568.5 252.7L572.5 260.4L576.5 269.5L580.5 280.8L584.5 293.4L588.5 306.7L592.5 314.8L596.5 323.2L600.5 331.6L604.5 341.5L608.5 350.3L612.5 356.9L616.5 364L620.5 370.5L624.5 374.5L628.5 375.3L632.5 376.8L636.5 378L640.5 379.1L644.5 379.7L648.5 381L652.5 381.3L656.5 383.6L660.5 386L664.5 387.4L668.5 390.2L672.5 392.8L676.5 394.4L680.5 394.9L684.5 395.9L688.5 396.6L692.5 395.9L696.5 394.8L700.5 394.3L704.5 392.4L708.5 390.3L712.5 388.5L716.5 387.1L720.5 386L724.5 382.7L728.5 380.4L732.5 378.5L736.5 375.6L740.5 371.7L744.5 367.8L748.5 363.5L752.5 359.6L756.5 354.9L760.5 349.9L764.5 344.3L768.5 339.2L772.5 335.7L776.5 334.7L780.5 333.1L784.5 331L788.5 329L792.5 326.5L796.5 325.4L800.5 323.8L804.5 321.4L808.5 319.6L812.5 318.5L816.5 317.7L820.5 317.6L824.5 317.1L828.5 316.2L832.5 316.1L836.5 315.3L840.5 313.9L844.5 310.2L848.5 306.3L852.5 303.7L856.5 301.4L860.5 300.2L864.5 299.5L868.5 298.7L872.5 298.3L876.5 297.4L880.5 295.8L884.5 293.5L888.5 292.1L892.5 290.6L896.5 289.1L900.5 288.1L904.5 286.4L908.5 285.3L912.5 284.5L916.5 284.4L920.5 284.2L924.5 284.3L928.5 284.1L932.5 284.1L936.5 283.7L940.5 282.9L944.5 282.4L948.5 281.4L952.5 280.1L956.5 278L960.5 275.9L964.5 273.7L968.5 272.4L972.5 271.7L976.5 270.3L980.5 269.5L984.5 268.9L988.5 267.7L992.5 266.4L996.5 265.5L1000.5 265L1004.5 264.8L1008.5 264.5L1012.5 264.3L1016.5 263.9L1020.5 263.7L1024.5 261.3L1028.5 259.5L1032.5 258.5L1036.5 258.1L1040.5 258.2L1044.5 258.2L1048.5 257.7L1052.5 257.4L1056.5 256.9L1060.5 256.9L1064.5 257.4L1068.5 258L1072.5 258.7L1076.5 261.1L1080.5 263.1L1084.5 264.3L1088.5 265.1L1092.5 266.2L1096.5 267.3L1100.5 268.7L1104.5 270L1108.5 271.6L1112.5 273.5" stroke="#ff4500" stroke-width="1" fill="none" stroke-linejoin="round" shape-rendering="crispEdges"/>
<path d="M-3.5 181.3L0.5 181.8L4.5 182.8L8.5 184.8L12.5 186.7L16.5 189.5L20.5 191.5L24.5 194L28.5 195.7L32.5 196.9L36.5 198.4L40.5 198.2L44.5 198.2L48.5 198.3L52.5 198.6L56.5 197.8L60.5 197.6L64.5 197.1L68.5 197L72.5 196.7L76.5 196.2L80.5 195.3L84.5 194.2L88.5 192.6L92.5 190.8L96.5 188.4L100.5 184.6L104.5 181.5L108.5 178.1L112.5 174.2L116.5 170.1L120.5 165.7L124.5 162.2L128.5 159.1L132.5 156.2L136.5 154.2L140.5 151.6L144.5 149.4L148.5 146.6L152.5 143.6L156.5 141.1L160.5 138.4L164.5 135.6L168.5 133.8L172.5 131.6L176.5 129.5L180.5 127.9L184.5 126.7L188.5 125.2L192.5 123.8L196.5 122.5L200.5 121.3L204.5 120.3L208.5 118.6L212.5 116.5L216.5 113.9L220.5 110.1L224.5 105.6L228.5 101.3L232.5 98.4L236.5 96L240.5 93.6L244.5 90.4L248.5 88.5L252.5 87.9L256.5 91.5L260.5 93.1L264.5 95.7L268.5 96.8L272.5 97.8L276.5 98.3L280.5 99.5L284.5 101.1L288.5 102.5L292.5 102.8L296.5 103.7L300.5 104.7L304.5 106.9L308.5 109.6L312.5 112L316.5 113.5L320.5 115.3L324.5 117.4L328.5 118.8L332.5 119.4L336.5 119.8L340.5 122.3L344.5 123.7L348.5 125.4L352.5 127.7L356.5 129.5L360.5 130.4L364.5 130.3L368.5 130.4L372.5 130.3L376.5 129.7L380.5 128.5L384.5 127.9L388.5 127L392.5 126.1L396.5 125.5L400.5 125L404.5 124.5L408.5 123.9L412.5 123.5L416.5 123.4L420.5 122.7L424.5 122.7L428.5 123.6L432.5 125.1L436.5 125.5L440.5 126.2L444.5 127.3L448.5 128.1L452.5 130L456.5 132.3L460.5 134.7L464.5 137L468.5 140.1L472.5 142.1L476.5 144.8L480.5 147.2L484.5 149L488.5 151L492.5 152.9L496.5 154.8L500.5 156.9L504.5 158.9L508.5 161L512.5 163.1L516.5 165.2L520.5 169.4L524.5 173.2L528.5 178.3L532.5 182.6L536.5 187.1L540.5 194L544.5 202.2L548.5 210.2L552.5 217.2L556.5 223.4L560.5 229.1L564.5 234.9L568.5 241.6L572.5 248.8L576.5 257.2L580.5 267.5L584.5 278.9L588.5 291L592.5 298.7L596.5 306.6L600.5 314.5L604.5 323.8L608.5 332.1L612.5 338.6L616.5 345.7L620.5 352.2L624.5 356.7L628.5 358.6L632.5 361.1L636.5 363.4L640.5 365.6L644.5 367.5L648.5 370L652.5 371.6L656.5 374.9L660.5 378.2L664.5 380.5L668.5 384.1L672.5 387.4L676.5 389.6L680.5 390.9L684.5 392.5L688.5 393.8L692.5 393.8L696.5 393.5L700.5 393.7L704.5 392.8L708.5 391.5L712.5 390.4L716.5 389.4L720.5 388.4L724.5 385.4L728.5 383.2L732.5 381.3L736.5 378.5L740.5 374.8L744.5 371.2L748.5 367.1L752.5 363.4L756.5 359L760.5 354.5L764.5 349.5L768.5 345.1L772.5 342.1L776.5 341.2L780.5 339.8L784.5 338L788.5 336.2L792.5 333.8L796.5 332.6L800.5 330.9L804.5 328.4L808.5 326.2L812.5 324.7L816.5 323.4L820.5 322.7L824.5 321.7L828.5 320.3L832.5 319.7L836.5 318.5L840.5 316.8L844.5 313.2L848.5 309.4L852.5 306.8L856.5 304.3L860.5 302.9L864.5 301.9L868.5 300.8L872.5 300.1L876.5 299.1L880.5 297.5L884.5 295.4L888.5 294.1L892.5 292.8L896.5 291.6L900.5 290.8L904.5 289.4L908.5 288.5L912.5 287.8L916.5 287.6L920.5 287.2L924.5 287.1L928.5 286.6L932.5 286.3L936.5 285.8L940.5 284.9L944.5 284.3L948.5 283.2L952.5 281.9L956.5 279.8L960.5 277.7L964.5 275.6L968.5 274.1L972.5 273.2L976.5 271.7L980.5 270.9L984.5 270.3L988.5 269.3L992.5 268.2L996.5 267.5L1000.5 267L1004.5 266.7L1008.5 266.3L1012.5 266L1016.5 265.6L1020.5 265.3L1024.5 263.2L1028.5 261.6L1032.5 260.7L1036.5 260.3L1040.5 260.2L1044.5 260.1L1048.5 259.6L1052.5 259.1L1056.5 258.5L1060.5 258.3L1064.5 258.5L1068.5 258.8L1072.5 259.1L1076.5 260.9L1080.5 262.4L1084.5 263.3L1088.5 264L1092.5 264.9L1096.5 265.8L1100.5 267.1L1104.5 268.3L1108.5 269.8L1112.5 271.5" stroke="#ff0000" stroke-width="1" fill="none" stroke-linejoin="round" shape-rendering="crispEdges"/>
<path d="M-3.5 180.4L0.5 180.9L4.5 181.8L8.5 183.6L12.5 185.3L16.5 187.8L20.5 189.6L24.5 191.8L28.5 193.5L32.5 194.6L36.5 196L40.5 195.9L44.5 196L48.5 196.2L52.5 196.6L56.5 196L60.5 195.9L64.5 195.6L68.5 195.6L72.5 195.4L76.5 195.1L80.5 194.4L84.5 193.5L88.5 192.3L92.5 190.8L96.5 188.8L100.5 185.6L104.5 182.9L108.5 180L112.5 176.7L116.5 173.1L120.5 169.3L124.5 166.2L128.5 163.5L132.5 160.9L136.5 159.1L140.5 156.8L144.5 154.9L148.5 152.3L152.5 149.6L156.5 147.3L160.5 144.8L164.5 142.2L168.5 140.4L172.5 138.2L176.5 136L180.5 134.2L184.5 132.6L188.5 130.9L192.5 129.1L196.5 127.6L200.5 126L204.5 124.8L208.5 122.9L212.5 120.7L216.5 118L220.5 114.4L224.5 110.1L228.5 106L232.5 103L236.5 100.5L240.5 97.9L244.5 94.7L248.5 92.6L252.5 91.7L256.5 94.5L260.5 95.6L264.5 97.6L268.5 98.5L272.5 99.2L276.5 99.5L280.5 100.6L284.5 101.9L288.5 103L292.5 103.3L296.5 104L300.5 104.7L304.5 106.5L308.5 108.7L312.5 110.8L316.5 112L320.5 113.4L324.5 115.3L328.5 116.4L332.5 116.9L336.5 117.3L340.5 119.4L344.5 120.5L348.5 122L352.5 124L356.5 125.5L360.5 126.3L364.5 126.2L368.5 126.3L372.5 126.3L376.5 126L380.5 125.2L384.5 125L388.5 124.6L392.5 124.3L396.5 124.2L400.5 124.2L404.5 124.3L408.5 124.1L412.5 124.1L416.5 124.2L420.5 123.7L424.5 123.7L428.5 124.5L432.5 125.7L436.5 126.1L440.5 126.7L444.5 127.7L448.5 128.4L452.5 130.1L456.5 132.1L460.5 134.2L464.5 136.2L468.5 138.9L472.5 140.6L476.5 143L480.5 144.9L484.5 146.5L488.5 148.2L492.5 149.9L496.5 151.6L500.5 153.4L504.5 155.2L508.5 157L512.5 158.8L516.5 160.7L520.5 164.4L524.5 167.8L528.5 172.4L532.5 176.3L536.5 180.6L540.5 186.9L544.5 194.4L548.5 201.7L552.5 208.2L556.5 214.1L560.5 219.5L564.5 225.1L568.5 231.4L572.5 238.2L576.5 246.1L580.5 255.6L584.5 266.1L588.5 277.3L592.5 284.6L596.5 292.2L600.5 299.7L604.5 308.5L608.5 316.5L612.5 322.9L616.5 329.7L620.5 336.2L624.5 340.8L628.5 343.2L632.5 346.2L636.5 349L640.5 351.7L644.5 354.2L648.5 357.2L652.5 359.5L656.5 363.3L660.5 367.2L664.5 370.3L668.5 374.4L672.5 378.3L676.5 381.3L680.5 383.4L684.5 385.8L688.5 387.9L692.5 388.8L696.5 389.4L700.5 390.3L704.5 390L708.5 389.5L712.5 389.1L716.5 388.7L720.5 388.2L724.5 386.2L728.5 384.7L732.5 383.4L736.5 381.2L740.5 378.1L744.5 374.8L748.5 371.1L752.5 367.7L756.5 363.6L760.5 359.3L764.5 354.6L768.5 350.5L772.5 347.5L776.5 346.3L780.5 344.7L784.5 342.9L788.5 341.1L792.5 338.9L796.5 337.8L800.5 336.2L804.5 334L808.5 332.1L812.5 330.6L816.5 329.3L820.5 328.4L824.5 327.2L828.5 325.7L832.5 324.6L836.5 323.1L840.5 321.2L844.5 317.6L848.5 313.8L852.5 311.1L856.5 308.5L860.5 306.9L864.5 305.6L868.5 304.2L872.5 303.2L876.5 301.9L880.5 300.2L884.5 298L888.5 296.5L892.5 295.1L896.5 293.8L900.5 292.8L904.5 291.5L908.5 290.5L912.5 289.8L916.5 289.6L920.5 289.3L924.5 289.2L928.5 288.9L932.5 288.6L936.5 288.1L940.5 287.3L944.5 286.5L948.5 285.4L952.5 284.1L956.5 282.1L960.5 280.1L964.5 278L968.5 276.6L972.5 275.6L976.5 274.1L980.5 273.1L984.5 272.4L988.5 271.2L992.5 270L996.5 269.1L1000.5 268.5L1004.5 268.1L1008.5 267.7L1012.5 267.4L1016.5 267L1020.5 266.8L1024.5 264.9L1028.5 263.5L1032.5 262.5L1036.5 262L1040.5 261.9L1044.5 261.7L1048.5 261.2L1052.5 260.7L1056.5 260.2L1060.5 259.9L1064.5 260L1068.5 260.1L1072.5 260.4L1076.5 261.8L1080.5 262.9L1084.5 263.6L1088.5 264L1092.5 264.6L1096.5 265.3L1100.5 266.2L1104.5 267.1L1108.5 268.3L1112.5 269.8" stroke="#ff0000" stroke-width="1" fill="none" stroke-linejoin="round" shape-rendering="crispEdges"/>
<path d="M-3.5 179.5L0.5 180L4.5 180.8L8.5 182.5L12.5 184L16.5 186.3L20.5 188L24.5 190L28.5 191.5L32.5 192.6L36.5 193.9L40.5 193.9L44.5 194.1L48.5 194.4L52.5 194.7L56.5 194.3L60.5 194.3L64.5 194.1L68.5 194.2L72.5 194.1L76.5 193.9L80.5 193.4L84.5 192.7L88.5 191.7L92.5 190.4L96.5 188.7L100.5 185.9L104.5 183.6L108.5 181.1L112.5 178.2L116.5 175.1L120.5 171.7L124.5 169L128.5 166.6L132.5 164.3L136.5 162.7L140.5 160.6L144.5 158.8L148.5 156.6L152.5 154.1L156.5 152L160.5 149.7L164.5 147.3L168.5 145.6L172.5 143.6L176.5 141.5L180.5 139.8L184.5 138.2L188.5 136.5L192.5 134.8L196.5 133.1L200.5 131.5L204.5 130L208.5 127.9L212.5 125.6L216.5 122.8L220.5 119.2L224.5 115.1L228.5 111.1L232.5 108.1L236.5 105.5L240.5 102.9L244.5 99.8L248.5 97.6L252.5 96.4L256.5 98.5L260.5 99.1L264.5 100.5L268.5 100.9L272.5 101.3L276.5 101.2L280.5 101.9L284.5 102.9L288.5 103.7L292.5 103.8L296.5 104.4L300.5 105L304.5 106.5L308.5 108.5L312.5 110.3L316.5 111.3L320.5 112.5L324.5 114.1L328.5 115L332.5 115.4L336.5 115.7L340.5 117.5L344.5 118.5L348.5 119.8L352.5 121.5L356.5 122.9L360.5 123.6L364.5 123.5L368.5 123.6L372.5 123.6L376.5 123.3L380.5 122.6L384.5 122.4L388.5 122.1L392.5 121.8L396.5 121.8L400.5 121.9L404.5 122.2L408.5 122.3L412.5 122.5L416.5 123L420.5 122.9L424.5 123.3L428.5 124.3L432.5 125.7L436.5 126.2L440.5 126.9L444.5 127.9L448.5 128.6L452.5 130.1L456.5 131.8L460.5 133.7L464.5 135.5L468.5 137.9L472.5 139.5L476.5 141.6L480.5 143.4L484.5 144.8L488.5 146.3L492.5 147.9L496.5 149.4L500.5 151L504.5 152.5L508.5 154.2L512.5 155.8L516.5 157.5L520.5 160.8L524.5 163.9L528.5 168L532.5 171.5L536.5 175.3L540.5 181L544.5 187.7L548.5 194.3L552.5 200.3L556.5 205.7L560.5 210.8L564.5 216.1L568.5 222.1L572.5 228.5L576.5 235.9L580.5 244.8L584.5 254.5L588.5 264.9L592.5 271.9L596.5 279.1L600.5 286.4L604.5 294.7L608.5 302.4L612.5 308.6L616.5 315.3L620.5 321.7L624.5 326.4L628.5 329.2L632.5 332.5L636.5 335.6L640.5 338.7L644.5 341.5L648.5 344.8L652.5 347.5L656.5 351.5L660.5 355.6L664.5 358.9L668.5 363.3L672.5 367.5L676.5 370.9L680.5 373.5L684.5 376.5L688.5 379.1L692.5 380.8L696.5 382.1L700.5 383.8L704.5 384.4L708.5 384.7L712.5 385.1L716.5 385.4L720.5 385.6L724.5 384.3L728.5 383.5L732.5 382.8L736.5 381.2L740.5 378.8L744.5 376.2L748.5 373.3L752.5 370.5L756.5 367.2L760.5 363.6L764.5 359.4L768.5 355.7L772.5 352.8L776.5 351.5L780.5 349.8L784.5 347.9L788.5 346L792.5 343.8L796.5 342.5L800.5 340.8L804.5 338.5L808.5 336.6L812.5 335.1L816.5 333.8L820.5 332.9L824.5 331.8L828.5 330.3L832.5 329.4L836.5 327.9L840.5 326L844.5 322.6L848.5 319L852.5 316.3L856.5 313.6L860.5 311.8L864.5 310.2L868.5 308.6L872.5 307.3L876.5 305.8L880.5 303.9L884.5 301.7L888.5 300L892.5 298.4L896.5 296.9L900.5 295.7L904.5 294.3L908.5 293.1L912.5 292.2L916.5 291.7L920.5 291.2L924.5 291L928.5 290.5L932.5 290.2L936.5 289.7L940.5 288.9L944.5 288.2L948.5 287.2L952.5 286.1L956.5 284.3L960.5 282.5L964.5 280.6L968.5 279.2L972.5 278.1L976.5 276.6L980.5 275.6L984.5 274.8L988.5 273.6L992.5 272.4L996.5 271.4L1000.5 270.7L1004.5 270.2L1008.5 269.6L1012.5 269.1L1016.5 268.5L1020.5 268.1L1024.5 266.3L1028.5 264.9L1032.5 264L1036.5 263.6L1040.5 263.4L1044.5 263.3L1048.5 262.7L1052.5 262.3L1056.5 261.7L1060.5 261.3L1064.5 261.3L1068.5 261.4L1072.5 261.5L1076.5 262.7L1080.5 263.7L1084.5 264.2L1088.5 264.5L1092.5 265L1096.5 265.5L1100.5 266.3L1104.5 267L1108.5 268L1112.5 269.1L1114 269.4" stroke="#191970" stroke-width="5" fill="none" stroke-linejoin="round" shape-rendering="crispEdges" stroke-linecap="round"/>
<path d="M0 226L16.5 245.5L228.4 22L260.5 186.3L380.4 92.1L588.5 532.5L597.4 484.4L605.6 454.2L611.1 435L617.9 410.4L622 391.2L626.2 369.3L628.7 338.5L672.4 436.2L844.6 239.8L916.4 325.3L964.4 234.4L1012 273.9L1024.5 226.8L1080.3 312.3" stroke="#ff0000" stroke-width="2" fill="none" stroke-linejoin="round" stroke-linejoin="miter"/>
<g shape-rendering="crispEdges">
<rect x="4" y="185" width="1" height="30" fill="#2f4f4f"/>
<rect x="3" y="188" width="3" height="10" fill="#3f6359"/>
<rect x="4" y="189" width="1" height="8" fill="#a4f7a4"/>
<rect x="8" y="196" width="1" height="44" fill="#2f4f4f"/>
<rect x="7" y="198" width="3" height="21" fill="#3f6359"/>
<rect x="8" y="199" width="1" height="19" fill="#a4f7a4"/>
<rect x="12" y="208" width="1" height="14" fill="#960000"/>
<rect x="11" y="218" width="3" height="3" fill="#a80000"/>
<rect x="12" y="219" width="1" height="1" fill="#ff1a1a"/>
<rect x="16" y="207" width="1" height="39" fill="#2f4f4f"/>
<rect x="15" y="218" width="3" height="19" fill="#3f6359"/>
<rect x="16" y="219" width="1" height="17" fill="#a4f7a4"/>
<rect x="20" y="219" width="1" height="23" fill="#960000"/>
<rect x="19" y="223" width="3" height="14" fill="#a80000"/>
<rect x="20" y="224" width="1" height="12" fill="#ff1a1a"/>
<rect x="24" y="222" width="1" height="12" fill="#2f4f4f"/>
<rect x="23" y="223" width="3" height="10" fill="#3f6359"/>
<rect x="24" y="224" width="1" height="8" fill="#a4f7a4"/>
<rect x="28" y="220" width="1" height="22" fill="#960000"/>
<rect x="27" y="221" width="3" height="10" fill="#a80000"/>
<rect x="28" y="222" width="1" height="8" fill="#ff1a1a"/>
<rect x="32" y="207" width="1" height="15" fill="#960000"/>
<rect x="31" y="211" width="3" height="11" fill="#a80000"/>
<rect x="32" y="212" width="1" height="9" fill="#ff1a1a"/>
<rect x="36" y="207" width="1" height="12" fill="#2f4f4f"/>
<rect x="35" y="212" width="3" height="7" fill="#3f6359"/>
<rect x="36" y="213" width="1" height="5" fill="#a4f7a4"/>
<rect x="40" y="186" width="1" height="34" fill="#960000"/>
<rect x="39" y="187" width="3" height="31" fill="#a80000"/>
<rect x="40" y="188" width="1" height="29" fill="#ff1a1a"/>
<rect x="44" y="180" width="1" height="12" fill="#2f4f4f"/>
<rect x="43" y="188" width="3" height="1" fill="#3f6359"/>
<rect x="48" y="186" width="1" height="9" fill="#2f4f4f"/>
<rect x="47" y="189" width="3" height="5" fill="#3f6359"/>
<rect x="48" y="190" width="1" height="3" fill="#a4f7a4"/>
<rect x="52" y="189" width="1" height="12" fill="#2f4f4f"/>
<rect x="51" y="194" width="3" height="3" fill="#3f6359"/>
<rect x="52" y="195" width="1" height="1" fill="#a4f7a4"/>
<rect x="56" y="176" width="1" height="22" fill="#960000"/>
<rect x="55" y="177" width="3" height="21" fill="#a80000"/>
<rect x="56" y="178" width="1" height="19" fill="#ff1a1a"/>
<rect x="60" y="176" width="1" height="16" fill="#2f4f4f"/>
<rect x="59" y="177" width="3" height="11" fill="#3f6359"/>
<rect x="60" y="178" width="1" height="9" fill="#a4f7a4"/>
<rect x="64" y="180" width="1" height="18" fill="#960000"/>
<rect x="63" y="182" width="3" height="6" fill="#a80000"/>
<rect x="64" y="183" width="1" height="4" fill="#ff1a1a"/>
<rect x="68" y="176" width="1" height="19" fill="#2f4f4f"/>
<rect x="67" y="183" width="3" height="9" fill="#3f6359"/>
<rect x="68" y="184" width="1" height="7" fill="#a4f7a4"/>
<rect x="72" y="183" width="1" height="11" fill="#960000"/>
<rect x="71" y="186" width="3" height="6" fill="#a80000"/>
<rect x="72" y="187" width="1" height="4" fill="#ff1a1a"/>
<rect x="76" y="179" width="1" height="11" fill="#960000"/>
<rect x="75" y="183" width="3" height="4" fill="#a80000"/>
<rect x="76" y="184" width="1" height="2" fill="#ff1a1a"/>
<rect x="80" y="173" width="1" height="19" fill="#960000"/>
<rect x="79" y="176" width="3" height="11" fill="#a80000"/>
<rect x="80" y="177" width="1" height="9" fill="#ff1a1a"/>
<rect x="84" y="168" width="1" height="15" fill="#960000"/>
<rect x="83" y="171" width="3" height="6" fill="#a80000"/>
<rect x="84" y="172" width="1" height="4" fill="#ff1a1a"/>
<rect x="88" y="161" width="1" height="22" fill="#960000"/>
<rect x="87" y="162" width="3" height="9" fill="#a80000"/>
<rect x="88" y="163" width="1" height="7" fill="#ff1a1a"/>
<rect x="92" y="155" width="1" height="34" fill="#960000"/>
<rect x="91" y="157" width="3" height="7" fill="#a80000"/>
<rect x="92" y="158" width="1" height="5" fill="#ff1a1a"/>
<rect x="96" y="143" width="1" height="15" fill="#960000"/>
<rect x="95" y="144" width="3" height="14" fill="#a80000"/>
<rect x="96" y="145" width="1" height="12" fill="#ff1a1a"/>
<rect x="100" y="115" width="1" height="32" fill="#960000"/>
<rect x="99" y="117" width="3" height="28" fill="#a80000"/>
<rect x="100" y="118" width="1" height="26" fill="#ff1a1a"/>
<rect x="104" y="116" width="1" height="13" fill="#2f4f4f"/>
<rect x="103" y="117" width="3" height="11" fill="#3f6359"/>
<rect x="104" y="118" width="1" height="9" fill="#a4f7a4"/>
<rect x="108" y="121" width="1" height="17" fill="#960000"/>
<rect x="107" y="121" width="3" height="7" fill="#a80000"/>
<rect x="108" y="122" width="1" height="5" fill="#ff1a1a"/>
<rect x="112" y="107" width="1" height="24" fill="#960000"/>
<rect x="111" y="110" width="3" height="11" fill="#a80000"/>
<rect x="112" y="111" width="1" height="9" fill="#ff1a1a"/>
<rect x="116" y="100" width="1" height="17" fill="#960000"/>
<rect x="115" y="103" width="3" height="7" fill="#a80000"/>
<rect x="116" y="104" width="1" height="5" fill="#ff1a1a"/>
<rect x="120" y="92" width="1" height="14" fill="#960000"/>
<rect x="119" y="96" width="3" height="7" fill="#a80000"/>
<rect x="120" y="97" width="1" height="5" fill="#ff1a1a"/>
<rect x="124" y="88" width="1" height="41" fill="#2f4f4f"/>
<rect x="123" y="96" width="3" height="15" fill="#3f6359"/>
<rect x="124" y="97" width="1" height="13" fill="#a4f7a4"/>
<rect x="128" y="110" width="1" height="14" fill="#2f4f4f"/>
<rect x="127" y="111" width="3" height="6" fill="#3f6359"/>
<rect x="128" y="112" width="1" height="4" fill="#a4f7a4"/>
<rect x="132" y="113" width="1" height="9" fill="#2f4f4f"/>
<rect x="131" y="117" width="3" height="2" fill="#3f6359"/>
<rect x="136" y="115" width="1" height="33" fill="#2f4f4f"/>
<rect x="135" y="118" width="3" height="17" fill="#3f6359"/>
<rect x="136" y="119" width="1" height="15" fill="#a4f7a4"/>
<rect x="140" y="119" width="1" height="21" fill="#960000"/>
<rect x="139" y="122" width="3" height="13" fill="#a80000"/>
<rect x="140" y="123" width="1" height="11" fill="#ff1a1a"/>
<rect x="144" y="117" width="1" height="14" fill="#2f4f4f"/>
<rect x="143" y="122" width="3" height="7" fill="#3f6359"/>
<rect x="144" y="123" width="1" height="5" fill="#a4f7a4"/>
<rect x="148" y="109" width="1" height="30" fill="#960000"/>
<rect x="147" y="115" width="3" height="15" fill="#a80000"/>
<rect x="148" y="116" width="1" height="13" fill="#ff1a1a"/>
<rect x="152" y="103" width="1" height="16" fill="#960000"/>
<rect x="151" y="109" width="3" height="6" fill="#a80000"/>
<rect x="152" y="110" width="1" height="4" fill="#ff1a1a"/>
<rect x="156" y="108" width="1" height="11" fill="#2f4f4f"/>
<rect x="155" y="109" width="3" height="8" fill="#3f6359"/>
<rect x="156" y="110" width="1" height="6" fill="#a4f7a4"/>
<rect x="160" y="110" width="1" height="15" fill="#960000"/>
<rect x="159" y="110" width="3" height="7" fill="#a80000"/>
<rect x="160" y="111" width="1" height="5" fill="#ff1a1a"/>
<rect x="164" y="100" width="1" height="19" fill="#960000"/>
<rect x="163" y="106" width="3" height="4" fill="#a80000"/>
<rect x="164" y="107" width="1" height="2" fill="#ff1a1a"/>
<rect x="168" y="104" width="1" height="24" fill="#2f4f4f"/>
<rect x="167" y="106" width="3" height="15" fill="#3f6359"/>
<rect x="168" y="107" width="1" height="13" fill="#a4f7a4"/>
<rect x="172" y="108" width="1" height="17" fill="#960000"/>
<rect x="171" y="113" width="3" height="8" fill="#a80000"/>
<rect x="172" y="114" width="1" height="6" fill="#ff1a1a"/>
<rect x="176" y="105" width="1" height="10" fill="#960000"/>
<rect x="175" y="110" width="3" height="4" fill="#a80000"/>
<rect x="176" y="111" width="1" height="2" fill="#ff1a1a"/>
<rect x="180" y="109" width="1" height="11" fill="#2f4f4f"/>
<rect x="179" y="110" width="3" height="8" fill="#3f6359"/>
<rect x="180" y="111" width="1" height="6" fill="#a4f7a4"/>
<rect x="184" y="112" width="1" height="19" fill="#2f4f4f"/>
<rect x="183" y="118" width="3" height="3" fill="#3f6359"/>
<rect x="184" y="119" width="1" height="1" fill="#a4f7a4"/>
<rect x="188" y="110" width="1" height="25" fill="#960000"/>
<rect x="187" y="115" width="3" height="6" fill="#a80000"/>
<rect x="188" y="116" width="1" height="4" fill="#ff1a1a"/>
<rect x="192" y="107" width="1" height="9" fill="#960000"/>
<rect x="191" y="113" width="3" height="2" fill="#a80000"/>
<rect x="196" y="107" width="1" height="14" fill="#2f4f4f"/>
<rect x="195" y="113" width="3" height="1" fill="#3f6359"/>
<rect x="200" y="107" width="1" height="7" fill="#960000"/>
<rect x="199" y="113" width="3" height="1" fill="#a80000"/>
<rect x="204" y="111" width="1" height="9" fill="#2f4f4f"/>
<rect x="203" y="113" width="3" height="3" fill="#3f6359"/>
<rect x="204" y="114" width="1" height="1" fill="#a4f7a4"/>
<rect x="208" y="91" width="1" height="27" fill="#960000"/>
<rect x="207" y="98" width="3" height="18" fill="#a80000"/>
<rect x="208" y="99" width="1" height="16" fill="#ff1a1a"/>
<rect x="212" y="85" width="1" height="17" fill="#960000"/>
<rect x="211" y="90" width="3" height="8" fill="#a80000"/>
<rect x="212" y="91" width="1" height="6" fill="#ff1a1a"/>
<rect x="216" y="76" width="1" height="16" fill="#960000"/>
<rect x="215" y="76" width="3" height="15" fill="#a80000"/>
<rect x="216" y="77" width="1" height="13" fill="#ff1a1a"/>
<rect x="220" y="32" width="1" height="39" fill="#960000"/>
<rect x="219" y="51" width="3" height="18" fill="#a80000"/>
<rect x="220" y="52" width="1" height="16" fill="#ff1a1a"/>
<rect x="224" y="34" width="1" height="19" fill="#960000"/>
<rect x="223" y="35" width="3" height="15" fill="#a80000"/>
<rect x="224" y="36" width="1" height="13" fill="#ff1a1a"/>
<rect x="228" y="22" width="1" height="16" fill="#960000"/>
<rect x="227" y="34" width="3" height="2" fill="#a80000"/>
<rect x="232" y="23" width="1" height="43" fill="#2f4f4f"/>
<rect x="231" y="34" width="3" height="22" fill="#3f6359"/>
<rect x="232" y="35" width="1" height="20" fill="#a4f7a4"/>
<rect x="236" y="50" width="1" height="34" fill="#2f4f4f"/>
<rect x="235" y="56" width="3" height="7" fill="#3f6359"/>
<rect x="236" y="57" width="1" height="5" fill="#a4f7a4"/>
<rect x="240" y="51" width="1" height="12" fill="#960000"/>
<rect x="239" y="60" width="3" height="3" fill="#a80000"/>
<rect x="240" y="61" width="1" height="1" fill="#ff1a1a"/>
<rect x="244" y="38" width="1" height="22" fill="#960000"/>
<rect x="243" y="43" width="3" height="16" fill="#a80000"/>
<rect x="244" y="44" width="1" height="14" fill="#ff1a1a"/>
<rect x="248" y="39" width="1" height="37" fill="#2f4f4f"/>
<rect x="247" y="43" width="3" height="21" fill="#3f6359"/>
<rect x="248" y="44" width="1" height="19" fill="#a4f7a4"/>
<rect x="252" y="55" width="1" height="43" fill="#2f4f4f"/>
<rect x="251" y="64" width="3" height="24" fill="#3f6359"/>
<rect x="252" y="65" width="1" height="22" fill="#a4f7a4"/>
<rect x="256" y="82" width="1" height="97" fill="#2f4f4f"/>
<rect x="255" y="88" width="3" height="82" fill="#3f6359"/>
<rect x="256" y="89" width="1" height="80" fill="#a4f7a4"/>
<rect x="260" y="131" width="1" height="55" fill="#960000"/>
<rect x="259" y="132" width="3" height="38" fill="#a80000"/>
<rect x="260" y="133" width="1" height="36" fill="#ff1a1a"/>
<rect x="264" y="127" width="1" height="26" fill="#2f4f4f"/>
<rect x="263" y="132" width="3" height="19" fill="#3f6359"/>
<rect x="264" y="133" width="1" height="17" fill="#a4f7a4"/>
<rect x="268" y="111" width="1" height="42" fill="#960000"/>
<rect x="267" y="124" width="3" height="20" fill="#a80000"/>
<rect x="268" y="125" width="1" height="18" fill="#ff1a1a"/>
<rect x="272" y="114" width="1" height="25" fill="#960000"/>
<rect x="271" y="122" width="3" height="3" fill="#a80000"/>
<rect x="272" y="123" width="1" height="1" fill="#ff1a1a"/>
<rect x="276" y="106" width="1" height="21" fill="#960000"/>
<rect x="275" y="111" width="3" height="12" fill="#a80000"/>
<rect x="276" y="112" width="1" height="10" fill="#ff1a1a"/>
<rect x="280" y="106" width="1" height="26" fill="#2f4f4f"/>
<rect x="279" y="110" width="3" height="17" fill="#3f6359"/>
<rect x="280" y="111" width="1" height="15" fill="#a4f7a4"/>
<rect x="284" y="121" width="1" height="21" fill="#2f4f4f"/>
<rect x="283" y="128" width="3" height="6" fill="#3f6359"/>
<rect x="284" y="129" width="1" height="4" fill="#a4f7a4"/>
<rect x="288" y="128" width="1" height="9" fill="#960000"/>
<rect x="287" y="130" width="3" height="4" fill="#a80000"/>
<rect x="288" y="131" width="1" height="2" fill="#ff1a1a"/>
<rect x="292" y="110" width="1" height="21" fill="#960000"/>
<rect x="291" y="110" width="3" height="21" fill="#a80000"/>
<rect x="292" y="111" width="1" height="19" fill="#ff1a1a"/>
<rect x="296" y="108" width="1" height="31" fill="#2f4f4f"/>
<rect x="295" y="110" width="3" height="11" fill="#3f6359"/>
<rect x="296" y="111" width="1" height="9" fill="#a4f7a4"/>
<rect x="300" y="116" width="1" height="16" fill="#2f4f4f"/>
<rect x="299" y="120" width="3" height="2" fill="#3f6359"/>
<rect x="304" y="118" width="1" height="35" fill="#2f4f4f"/>
<rect x="303" y="121" width="3" height="25" fill="#3f6359"/>
<rect x="304" y="122" width="1" height="23" fill="#a4f7a4"/>
<rect x="308" y="139" width="1" height="27" fill="#2f4f4f"/>
<rect x="307" y="146" width="3" height="12" fill="#3f6359"/>
<rect x="308" y="147" width="1" height="10" fill="#a4f7a4"/>
<rect x="312" y="148" width="1" height="16" fill="#960000"/>
<rect x="311" y="153" width="3" height="5" fill="#a80000"/>
<rect x="312" y="154" width="1" height="3" fill="#ff1a1a"/>
<rect x="316" y="129" width="1" height="30" fill="#960000"/>
<rect x="315" y="135" width="3" height="17" fill="#a80000"/>
<rect x="316" y="136" width="1" height="15" fill="#ff1a1a"/>
<rect x="320" y="130" width="1" height="12" fill="#2f4f4f"/>
<rect x="319" y="135" width="3" height="6" fill="#3f6359"/>
<rect x="320" y="136" width="1" height="4" fill="#a4f7a4"/>
<rect x="324" y="137" width="1" height="19" fill="#2f4f4f"/>
<rect x="323" y="140" width="3" height="10" fill="#3f6359"/>
<rect x="324" y="141" width="1" height="8" fill="#a4f7a4"/>
<rect x="328" y="132" width="1" height="29" fill="#960000"/>
<rect x="327" y="134" width="3" height="15" fill="#a80000"/>
<rect x="328" y="135" width="1" height="13" fill="#ff1a1a"/>
<rect x="332" y="118" width="1" height="19" fill="#960000"/>
<rect x="331" y="121" width="3" height="14" fill="#a80000"/>
<rect x="332" y="122" width="1" height="12" fill="#ff1a1a"/>
<rect x="336" y="116" width="1" height="11" fill="#960000"/>
<rect x="335" y="118" width="3" height="4" fill="#a80000"/>
<rect x="336" y="119" width="1" height="2" fill="#ff1a1a"/>
<rect x="340" y="108" width="1" height="72" fill="#2f4f4f"/>
<rect x="339" y="115" width="3" height="43" fill="#3f6359"/>
<rect x="340" y="116" width="1" height="41" fill="#a4f7a4"/>
<rect x="344" y="131" width="1" height="33" fill="#960000"/>
<rect x="343" y="137" width="3" height="21" fill="#a80000"/>
<rect x="344" y="138" width="1" height="19" fill="#ff1a1a"/>
<rect x="348" y="134" width="1" height="18" fill="#2f4f4f"/>
<rect x="347" y="137" width="3" height="7" fill="#3f6359"/>
<rect x="348" y="138" width="1" height="5" fill="#a4f7a4"/>
<rect x="352" y="142" width="1" height="16" fill="#2f4f4f"/>
<rect x="351" y="144" width="3" height="13" fill="#3f6359"/>
<rect x="352" y="145" width="1" height="11" fill="#a4f7a4"/>
<rect x="356" y="139" width="1" height="23" fill="#960000"/>
<rect x="355" y="147" width="3" height="10" fill="#a80000"/>
<rect x="356" y="148" width="1" height="8" fill="#ff1a1a"/>
<rect x="360" y="127" width="1" height="22" fill="#960000"/>
<rect x="359" y="132" width="3" height="16" fill="#a80000"/>
<rect x="360" y="133" width="1" height="14" fill="#ff1a1a"/>
<rect x="364" y="112" width="1" height="27" fill="#960000"/>
<rect x="363" y="113" width="3" height="18" fill="#a80000"/>
<rect x="364" y="114" width="1" height="16" fill="#ff1a1a"/>
<rect x="368" y="111" width="1" height="15" fill="#2f4f4f"/>
<rect x="367" y="113" width="3" height="3" fill="#3f6359"/>
<rect x="368" y="114" width="1" height="1" fill="#a4f7a4"/>
<rect x="372" y="109" width="1" height="13" fill="#960000"/>
<rect x="371" y="114" width="3" height="3" fill="#a80000"/>
<rect x="372" y="115" width="1" height="1" fill="#ff1a1a"/>
<rect x="376" y="96" width="1" height="29" fill="#960000"/>
<rect x="375" y="105" width="3" height="9" fill="#a80000"/>
<rect x="376" y="106" width="1" height="7" fill="#ff1a1a"/>
<rect x="380" y="92" width="1" height="22" fill="#960000"/>
<rect x="379" y="96" width="3" height="9" fill="#a80000"/>
<rect x="380" y="97" width="1" height="7" fill="#ff1a1a"/>
<rect x="384" y="96" width="1" height="26" fill="#2f4f4f"/>
<rect x="383" y="96" width="3" height="14" fill="#3f6359"/>
<rect x="384" y="97" width="1" height="12" fill="#a4f7a4"/>
<rect x="388" y="98" width="1" height="16" fill="#960000"/>
<rect x="387" y="104" width="3" height="7" fill="#a80000"/>
<rect x="388" y="105" width="1" height="5" fill="#ff1a1a"/>
<rect x="392" y="99" width="1" height="14" fill="#2f4f4f"/>
<rect x="391" y="104" width="3" height="3" fill="#3f6359"/>
<rect x="392" y="105" width="1" height="1" fill="#a4f7a4"/>
<rect x="396" y="103" width="1" height="15" fill="#2f4f4f"/>
<rect x="395" y="107" width="3" height="6" fill="#3f6359"/>
<rect x="396" y="108" width="1" height="4" fill="#a4f7a4"/>
<rect x="400" y="108" width="1" height="19" fill="#2f4f4f"/>
<rect x="399" y="112" width="3" height="4" fill="#3f6359"/>
<rect x="400" y="113" width="1" height="2" fill="#a4f7a4"/>
<rect x="404" y="109" width="1" height="17" fill="#2f4f4f"/>
<rect x="403" y="116" width="3" height="4" fill="#3f6359"/>
<rect x="404" y="117" width="1" height="2" fill="#a4f7a4"/>
<rect x="408" y="113" width="1" height="7" fill="#960000"/>
<rect x="407" y="116" width="3" height="4" fill="#a80000"/>
<rect x="408" y="117" width="1" height="2" fill="#ff1a1a"/>
<rect x="412" y="114" width="1" height="22" fill="#2f4f4f"/>
<rect x="411" y="117" width="3" height="3" fill="#3f6359"/>
<rect x="412" y="118" width="1" height="1" fill="#a4f7a4"/>
<rect x="416" y="114" width="1" height="17" fill="#2f4f4f"/>
<rect x="415" y="119" width="3" height="7" fill="#3f6359"/>
<rect x="416" y="120" width="1" height="5" fill="#a4f7a4"/>
<rect x="420" y="111" width="1" height="17" fill="#960000"/>
<rect x="419" y="112" width="3" height="14" fill="#a80000"/>
<rect x="420" y="113" width="1" height="12" fill="#ff1a1a"/>
<rect x="424" y="110" width="1" height="19" fill="#2f4f4f"/>
<rect x="423" y="112" width="3" height="15" fill="#3f6359"/>
<rect x="424" y="113" width="1" height="13" fill="#a4f7a4"/>
<rect x="428" y="121" width="1" height="25" fill="#2f4f4f"/>
<rect x="427" y="126" width="3" height="19" fill="#3f6359"/>
<rect x="428" y="127" width="1" height="17" fill="#a4f7a4"/>
<rect x="432" y="141" width="1" height="22" fill="#2f4f4f"/>
<rect x="431" y="144" width="3" height="11" fill="#3f6359"/>
<rect x="432" y="145" width="1" height="9" fill="#a4f7a4"/>
<rect x="436" y="136" width="1" height="21" fill="#960000"/>
<rect x="435" y="136" width="3" height="18" fill="#a80000"/>
<rect x="436" y="137" width="1" height="16" fill="#ff1a1a"/>
<rect x="440" y="135" width="1" height="10" fill="#2f4f4f"/>
<rect x="439" y="136" width="3" height="5" fill="#3f6359"/>
<rect x="440" y="137" width="1" height="3" fill="#a4f7a4"/>
<rect x="444" y="143" width="1" height="17" fill="#2f4f4f"/>
<rect x="443" y="144" width="3" height="6" fill="#3f6359"/>
<rect x="444" y="145" width="1" height="4" fill="#a4f7a4"/>
<rect x="448" y="137" width="1" height="17" fill="#960000"/>
<rect x="447" y="145" width="3" height="6" fill="#a80000"/>
<rect x="448" y="146" width="1" height="4" fill="#ff1a1a"/>
<rect x="452" y="144" width="1" height="34" fill="#2f4f4f"/>
<rect x="451" y="145" width="3" height="22" fill="#3f6359"/>
<rect x="452" y="146" width="1" height="20" fill="#a4f7a4"/>
<rect x="456" y="164" width="1" height="18" fill="#2f4f4f"/>
<rect x="455" y="166" width="3" height="10" fill="#3f6359"/>
<rect x="456" y="167" width="1" height="8" fill="#a4f7a4"/>
<rect x="460" y="172" width="1" height="26" fill="#960000"/>
<rect x="459" y="178" width="3" height="6" fill="#a80000"/>
<rect x="460" y="179" width="1" height="4" fill="#ff1a1a"/>
<rect x="464" y="174" width="1" height="12" fill="#960000"/>
<rect x="463" y="177" width="3" height="1" fill="#a80000"/>
<rect x="468" y="172" width="1" height="24" fill="#2f4f4f"/>
<rect x="467" y="178" width="3" height="16" fill="#3f6359"/>
<rect x="468" y="179" width="1" height="14" fill="#a4f7a4"/>
<rect x="472" y="172" width="1" height="24" fill="#960000"/>
<rect x="471" y="173" width="3" height="21" fill="#a80000"/>
<rect x="472" y="174" width="1" height="19" fill="#ff1a1a"/>
<rect x="476" y="170" width="1" height="25" fill="#2f4f4f"/>
<rect x="475" y="173" width="3" height="16" fill="#3f6359"/>
<rect x="476" y="174" width="1" height="14" fill="#a4f7a4"/>
<rect x="480" y="176" width="1" height="13" fill="#960000"/>
<rect x="479" y="182" width="3" height="7" fill="#a80000"/>
<rect x="480" y="183" width="1" height="5" fill="#ff1a1a"/>
<rect x="484" y="173" width="1" height="14" fill="#960000"/>
<rect x="483" y="173" width="3" height="9" fill="#a80000"/>
<rect x="484" y="174" width="1" height="7" fill="#ff1a1a"/>
<rect x="488" y="168" width="1" height="11" fill="#2f4f4f"/>
<rect x="487" y="173" width="3" height="4" fill="#3f6359"/>
<rect x="488" y="174" width="1" height="2" fill="#a4f7a4"/>
<rect x="492" y="173" width="1" height="10" fill="#2f4f4f"/>
<rect x="491" y="176" width="3" height="3" fill="#3f6359"/>
<rect x="492" y="177" width="1" height="1" fill="#a4f7a4"/>
<rect x="496" y="172" width="1" height="16" fill="#960000"/>
<rect x="495" y="178" width="3" height="3" fill="#a80000"/>
<rect x="496" y="179" width="1" height="1" fill="#ff1a1a"/>
<rect x="500" y="176" width="1" height="19" fill="#2f4f4f"/>
<rect x="499" y="178" width="3" height="6" fill="#3f6359"/>
<rect x="500" y="179" width="1" height="4" fill="#a4f7a4"/>
<rect x="504" y="179" width="1" height="8" fill="#960000"/>
<rect x="503" y="182" width="3" height="2" fill="#a80000"/>
<rect x="508" y="178" width="1" height="11" fill="#2f4f4f"/>
<rect x="507" y="182" width="3" height="3" fill="#3f6359"/>
<rect x="508" y="183" width="1" height="1" fill="#a4f7a4"/>
<rect x="512" y="181" width="1" height="11" fill="#2f4f4f"/>
<rect x="511" y="184" width="3" height="2" fill="#3f6359"/>
<rect x="516" y="179" width="1" height="15" fill="#2f4f4f"/>
<rect x="515" y="185" width="3" height="3" fill="#3f6359"/>
<rect x="516" y="186" width="1" height="1" fill="#a4f7a4"/>
<rect x="520" y="186" width="1" height="63" fill="#2f4f4f"/>
<rect x="519" y="188" width="3" height="43" fill="#3f6359"/>
<rect x="520" y="189" width="1" height="41" fill="#a4f7a4"/>
<rect x="524" y="223" width="1" height="18" fill="#960000"/>
<rect x="523" y="226" width="3" height="6" fill="#a80000"/>
<rect x="524" y="227" width="1" height="4" fill="#ff1a1a"/>
<rect x="528" y="224" width="1" height="36" fill="#2f4f4f"/>
<rect x="527" y="226" width="3" height="28" fill="#3f6359"/>
<rect x="528" y="227" width="1" height="26" fill="#a4f7a4"/>
<rect x="532" y="237" width="1" height="23" fill="#960000"/>
<rect x="531" y="242" width="3" height="7" fill="#a80000"/>
<rect x="532" y="243" width="1" height="5" fill="#ff1a1a"/>
<rect x="536" y="237" width="1" height="15" fill="#2f4f4f"/>
<rect x="535" y="242" width="3" height="9" fill="#3f6359"/>
<rect x="536" y="243" width="1" height="7" fill="#a4f7a4"/>
<rect x="540" y="246" width="1" height="60" fill="#2f4f4f"/>
<rect x="539" y="251" width="3" height="49" fill="#3f6359"/>
<rect x="540" y="252" width="1" height="47" fill="#a4f7a4"/>
<rect x="544" y="292" width="1" height="85" fill="#2f4f4f"/>
<rect x="543" y="300" width="3" height="31" fill="#3f6359"/>
<rect x="544" y="301" width="1" height="29" fill="#a4f7a4"/>
<rect x="548" y="320" width="1" height="33" fill="#2f4f4f"/>
<rect x="547" y="330" width="3" height="2" fill="#3f6359"/>
<rect x="552" y="314" width="1" height="27" fill="#960000"/>
<rect x="551" y="320" width="3" height="12" fill="#a80000"/>
<rect x="552" y="321" width="1" height="10" fill="#ff1a1a"/>
<rect x="556" y="301" width="1" height="25" fill="#960000"/>
<rect x="555" y="309" width="3" height="11" fill="#a80000"/>
<rect x="556" y="310" width="1" height="9" fill="#ff1a1a"/>
<rect x="560" y="286" width="1" height="26" fill="#960000"/>
<rect x="559" y="304" width="3" height="6" fill="#a80000"/>
<rect x="560" y="305" width="1" height="4" fill="#ff1a1a"/>
<rect x="564" y="287" width="1" height="29" fill="#2f4f4f"/>
<rect x="563" y="304" width="3" height="8" fill="#3f6359"/>
<rect x="564" y="305" width="1" height="6" fill="#a4f7a4"/>
<rect x="568" y="303" width="1" height="32" fill="#2f4f4f"/>
<rect x="567" y="312" width="3" height="21" fill="#3f6359"/>
<rect x="568" y="313" width="1" height="19" fill="#a4f7a4"/>
<rect x="572" y="329" width="1" height="33" fill="#2f4f4f"/>
<rect x="571" y="332" width="3" height="18" fill="#3f6359"/>
<rect x="572" y="333" width="1" height="16" fill="#a4f7a4"/>
<rect x="576" y="347" width="1" height="40" fill="#2f4f4f"/>
<rect x="575" y="349" width="3" height="30" fill="#3f6359"/>
<rect x="576" y="350" width="1" height="28" fill="#a4f7a4"/>
<rect x="580" y="378" width="1" height="70" fill="#2f4f4f"/>
<rect x="579" y="387" width="3" height="35" fill="#3f6359"/>
<rect x="580" y="388" width="1" height="33" fill="#a4f7a4"/>
<rect x="584" y="408" width="1" height="46" fill="#2f4f4f"/>
<rect x="583" y="420" width="3" height="31" fill="#3f6359"/>
<rect x="584" y="421" width="1" height="29" fill="#a4f7a4"/>
<rect x="588" y="450" width="1" height="82" fill="#2f4f4f"/>
<rect x="587" y="450" width="3" height="23" fill="#3f6359"/>
<rect x="588" y="451" width="1" height="21" fill="#a4f7a4"/>
<rect x="592" y="382" width="1" height="96" fill="#960000"/>
<rect x="591" y="395" width="3" height="78" fill="#a80000"/>
<rect x="592" y="396" width="1" height="76" fill="#ff1a1a"/>
<rect x="596" y="373" width="1" height="62" fill="#2f4f4f"/>
<rect x="595" y="395" width="3" height="11" fill="#3f6359"/>
<rect x="596" y="396" width="1" height="9" fill="#a4f7a4"/>
<rect x="600" y="390" width="1" height="31" fill="#2f4f4f"/>
<rect x="599" y="406" width="3" height="7" fill="#3f6359"/>
<rect x="600" y="407" width="1" height="5" fill="#a4f7a4"/>
<rect x="604" y="398" width="1" height="54" fill="#2f4f4f"/>
<rect x="603" y="410" width="3" height="37" fill="#3f6359"/>
<rect x="604" y="411" width="1" height="35" fill="#a4f7a4"/>
<rect x="608" y="425" width="1" height="28" fill="#960000"/>
<rect x="607" y="436" width="3" height="11" fill="#a80000"/>
<rect x="608" y="437" width="1" height="9" fill="#ff1a1a"/>
<rect x="612" y="403" width="1" height="36" fill="#960000"/>
<rect x="611" y="406" width="3" height="31" fill="#a80000"/>
<rect x="612" y="407" width="1" height="29" fill="#ff1a1a"/>
<rect x="616" y="399" width="1" height="36" fill="#2f4f4f"/>
<rect x="615" y="406" width="3" height="17" fill="#3f6359"/>
<rect x="616" y="407" width="1" height="15" fill="#a4f7a4"/>
<rect x="620" y="406" width="1" height="21" fill="#960000"/>
<rect x="619" y="420" width="3" height="4" fill="#a80000"/>
<rect x="620" y="421" width="1" height="2" fill="#ff1a1a"/>
<rect x="624" y="384" width="1" height="39" fill="#960000"/>
<rect x="623" y="386" width="3" height="35" fill="#a80000"/>
<rect x="624" y="387" width="1" height="33" fill="#ff1a1a"/>
<rect x="628" y="338" width="1" height="56" fill="#960000"/>
<rect x="627" y="341" width="3" height="47" fill="#a80000"/>
<rect x="628" y="342" width="1" height="45" fill="#ff1a1a"/>
<rect x="632" y="339" width="1" height="20" fill="#2f4f4f"/>
<rect x="631" y="341" width="3" height="16" fill="#3f6359"/>
<rect x="632" y="342" width="1" height="14" fill="#a4f7a4"/>
<rect x="636" y="351" width="1" height="15" fill="#2f4f4f"/>
<rect x="635" y="356" width="3" height="2" fill="#3f6359"/>
<rect x="640" y="345" width="1" height="25" fill="#2f4f4f"/>
<rect x="639" y="357" width="3" height="3" fill="#3f6359"/>
<rect x="640" y="358" width="1" height="1" fill="#a4f7a4"/>
<rect x="644" y="348" width="1" height="20" fill="#960000"/>
<rect x="643" y="358" width="3" height="3" fill="#a80000"/>
<rect x="644" y="359" width="1" height="1" fill="#ff1a1a"/>
<rect x="648" y="351" width="1" height="31" fill="#2f4f4f"/>
<rect x="647" y="358" width="3" height="18" fill="#3f6359"/>
<rect x="648" y="359" width="1" height="16" fill="#a4f7a4"/>
<rect x="652" y="360" width="1" height="21" fill="#960000"/>
<rect x="651" y="363" width="3" height="13" fill="#a80000"/>
<rect x="652" y="364" width="1" height="11" fill="#ff1a1a"/>
<rect x="656" y="363" width="1" height="39" fill="#2f4f4f"/>
<rect x="655" y="363" width="3" height="38" fill="#3f6359"/>
<rect x="656" y="364" width="1" height="36" fill="#a4f7a4"/>
<rect x="660" y="391" width="1" height="21" fill="#2f4f4f"/>
<rect x="659" y="401" width="3" height="7" fill="#3f6359"/>
<rect x="660" y="402" width="1" height="5" fill="#a4f7a4"/>
<rect x="664" y="392" width="1" height="18" fill="#960000"/>
<rect x="663" y="394" width="3" height="15" fill="#a80000"/>
<rect x="664" y="395" width="1" height="13" fill="#ff1a1a"/>
<rect x="668" y="385" width="1" height="45" fill="#2f4f4f"/>
<rect x="667" y="395" width="3" height="28" fill="#3f6359"/>
<rect x="668" y="396" width="1" height="26" fill="#a4f7a4"/>
<rect x="672" y="408" width="1" height="28" fill="#2f4f4f"/>
<rect x="671" y="423" width="3" height="1" fill="#3f6359"/>
<rect x="676" y="409" width="1" height="17" fill="#960000"/>
<rect x="675" y="409" width="3" height="13" fill="#a80000"/>
<rect x="676" y="410" width="1" height="11" fill="#ff1a1a"/>
<rect x="680" y="387" width="1" height="23" fill="#960000"/>
<rect x="679" y="395" width="3" height="14" fill="#a80000"/>
<rect x="680" y="396" width="1" height="12" fill="#ff1a1a"/>
<rect x="684" y="388" width="1" height="21" fill="#2f4f4f"/>
<rect x="683" y="395" width="3" height="11" fill="#3f6359"/>
<rect x="684" y="396" width="1" height="9" fill="#a4f7a4"/>
<rect x="688" y="398" width="1" height="17" fill="#960000"/>
<rect x="687" y="403" width="3" height="3" fill="#a80000"/>
<rect x="688" y="404" width="1" height="1" fill="#ff1a1a"/>
<rect x="692" y="356" width="1" height="49" fill="#960000"/>
<rect x="691" y="382" width="3" height="22" fill="#a80000"/>
<rect x="692" y="383" width="1" height="20" fill="#ff1a1a"/>
<rect x="696" y="366" width="1" height="17" fill="#960000"/>
<rect x="695" y="379" width="3" height="3" fill="#a80000"/>
<rect x="696" y="380" width="1" height="1" fill="#ff1a1a"/>
<rect x="700" y="371" width="1" height="35" fill="#2f4f4f"/>
<rect x="699" y="380" width="3" height="10" fill="#3f6359"/>
<rect x="700" y="381" width="1" height="8" fill="#a4f7a4"/>
<rect x="704" y="366" width="1" height="27" fill="#960000"/>
<rect x="703" y="368" width="3" height="22" fill="#a80000"/>
<rect x="704" y="369" width="1" height="20" fill="#ff1a1a"/>
<rect x="708" y="358" width="1" height="13" fill="#960000"/>
<rect x="707" y="365" width="3" height="3" fill="#a80000"/>
<rect x="708" y="366" width="1" height="1" fill="#ff1a1a"/>
<rect x="712" y="346" width="1" height="25" fill="#2f4f4f"/>
<rect x="711" y="365" width="3" height="4" fill="#3f6359"/>
<rect x="712" y="366" width="1" height="2" fill="#a4f7a4"/>
<rect x="716" y="355" width="1" height="19" fill="#2f4f4f"/>
<rect x="715" y="368" width="3" height="3" fill="#3f6359"/>
<rect x="716" y="369" width="1" height="1" fill="#a4f7a4"/>
<rect x="720" y="368" width="1" height="13" fill="#2f4f4f"/>
<rect x="719" y="371" width="3" height="3" fill="#3f6359"/>
<rect x="720" y="372" width="1" height="1" fill="#a4f7a4"/>
<rect x="724" y="331" width="1" height="54" fill="#960000"/>
<rect x="723" y="337" width="3" height="36" fill="#a80000"/>
<rect x="724" y="338" width="1" height="34" fill="#ff1a1a"/>
<rect x="728" y="336" width="1" height="24" fill="#2f4f4f"/>
<rect x="727" y="337" width="3" height="13" fill="#3f6359"/>
<rect x="728" y="338" width="1" height="11" fill="#a4f7a4"/>
<rect x="732" y="348" width="1" height="12" fill="#2f4f4f"/>
<rect x="731" y="351" width="3" height="5" fill="#3f6359"/>
<rect x="732" y="352" width="1" height="3" fill="#a4f7a4"/>
<rect x="736" y="335" width="1" height="27" fill="#960000"/>
<rect x="735" y="336" width="3" height="20" fill="#a80000"/>
<rect x="736" y="337" width="1" height="18" fill="#ff1a1a"/>
<rect x="740" y="313" width="1" height="27" fill="#960000"/>
<rect x="739" y="317" width="3" height="19" fill="#a80000"/>
<rect x="740" y="318" width="1" height="17" fill="#ff1a1a"/>
<rect x="744" y="305" width="1" height="14" fill="#960000"/>
<rect x="743" y="313" width="3" height="5" fill="#a80000"/>
<rect x="744" y="314" width="1" height="3" fill="#ff1a1a"/>
<rect x="748" y="291" width="1" height="25" fill="#960000"/>
<rect x="747" y="303" width="3" height="7" fill="#a80000"/>
<rect x="748" y="304" width="1" height="5" fill="#ff1a1a"/>
<rect x="752" y="299" width="1" height="14" fill="#2f4f4f"/>
<rect x="751" y="303" width="3" height="4" fill="#3f6359"/>
<rect x="752" y="304" width="1" height="2" fill="#a4f7a4"/>
<rect x="756" y="282" width="1" height="26" fill="#960000"/>
<rect x="755" y="291" width="3" height="16" fill="#a80000"/>
<rect x="756" y="292" width="1" height="14" fill="#ff1a1a"/>
<rect x="760" y="276" width="1" height="19" fill="#960000"/>
<rect x="759" y="285" width="3" height="7" fill="#a80000"/>
<rect x="760" y="286" width="1" height="5" fill="#ff1a1a"/>
<rect x="764" y="264" width="1" height="28" fill="#960000"/>
<rect x="763" y="271" width="3" height="15" fill="#a80000"/>
<rect x="764" y="272" width="1" height="13" fill="#ff1a1a"/>
<rect x="768" y="270" width="1" height="15" fill="#2f4f4f"/>
<rect x="767" y="271" width="3" height="8" fill="#3f6359"/>
<rect x="768" y="272" width="1" height="6" fill="#a4f7a4"/>
<rect x="772" y="261" width="1" height="58" fill="#2f4f4f"/>
<rect x="771" y="279" width="3" height="23" fill="#3f6359"/>
<rect x="772" y="280" width="1" height="21" fill="#a4f7a4"/>
<rect x="776" y="298" width="1" height="46" fill="#2f4f4f"/>
<rect x="775" y="301" width="3" height="40" fill="#3f6359"/>
<rect x="776" y="302" width="1" height="38" fill="#a4f7a4"/>
<rect x="780" y="320" width="1" height="36" fill="#960000"/>
<rect x="779" y="330" width="3" height="11" fill="#a80000"/>
<rect x="780" y="331" width="1" height="9" fill="#ff1a1a"/>
<rect x="784" y="318" width="1" height="28" fill="#960000"/>
<rect x="783" y="321" width="3" height="9" fill="#a80000"/>
<rect x="784" y="322" width="1" height="7" fill="#ff1a1a"/>
<rect x="788" y="301" width="1" height="25" fill="#960000"/>
<rect x="787" y="320" width="3" height="2" fill="#a80000"/>
<rect x="792" y="308" width="1" height="15" fill="#960000"/>
<rect x="791" y="309" width="3" height="12" fill="#a80000"/>
<rect x="792" y="310" width="1" height="10" fill="#ff1a1a"/>
<rect x="796" y="308" width="1" height="30" fill="#2f4f4f"/>
<rect x="795" y="312" width="3" height="18" fill="#3f6359"/>
<rect x="796" y="313" width="1" height="16" fill="#a4f7a4"/>
<rect x="800" y="308" width="1" height="22" fill="#960000"/>
<rect x="799" y="318" width="3" height="11" fill="#a80000"/>
<rect x="800" y="319" width="1" height="9" fill="#ff1a1a"/>
<rect x="804" y="297" width="1" height="26" fill="#960000"/>
<rect x="803" y="302" width="3" height="16" fill="#a80000"/>
<rect x="804" y="303" width="1" height="14" fill="#ff1a1a"/>
<rect x="808" y="301" width="1" height="15" fill="#2f4f4f"/>
<rect x="807" y="302" width="3" height="6" fill="#3f6359"/>
<rect x="808" y="303" width="1" height="4" fill="#a4f7a4"/>
<rect x="812" y="302" width="1" height="20" fill="#2f4f4f"/>
<rect x="811" y="308" width="3" height="10" fill="#3f6359"/>
<rect x="812" y="309" width="1" height="8" fill="#a4f7a4"/>
<rect x="816" y="312" width="1" height="9" fill="#2f4f4f"/>
<rect x="815" y="317" width="3" height="2" fill="#3f6359"/>
<rect x="820" y="313" width="1" height="20" fill="#2f4f4f"/>
<rect x="819" y="319" width="3" height="9" fill="#3f6359"/>
<rect x="820" y="320" width="1" height="7" fill="#a4f7a4"/>
<rect x="824" y="314" width="1" height="17" fill="#960000"/>
<rect x="823" y="321" width="3" height="7" fill="#a80000"/>
<rect x="824" y="322" width="1" height="5" fill="#ff1a1a"/>
<rect x="828" y="302" width="1" height="22" fill="#960000"/>
<rect x="827" y="311" width="3" height="12" fill="#a80000"/>
<rect x="828" y="312" width="1" height="10" fill="#ff1a1a"/>
<rect x="832" y="308" width="1" height="20" fill="#2f4f4f"/>
<rect x="831" y="311" width="3" height="12" fill="#3f6359"/>
<rect x="832" y="312" width="1" height="10" fill="#a4f7a4"/>
<rect x="836" y="306" width="1" height="31" fill="#960000"/>
<rect x="835" y="309" width="3" height="14" fill="#a80000"/>
<rect x="836" y="310" width="1" height="12" fill="#ff1a1a"/>
<rect x="840" y="293" width="1" height="21" fill="#960000"/>
<rect x="839" y="298" width="3" height="11" fill="#a80000"/>
<rect x="840" y="299" width="1" height="9" fill="#ff1a1a"/>
<rect x="844" y="240" width="1" height="56" fill="#960000"/>
<rect x="843" y="257" width="3" height="36" fill="#a80000"/>
<rect x="844" y="258" width="1" height="34" fill="#ff1a1a"/>
<rect x="848" y="245" width="1" height="20" fill="#960000"/>
<rect x="847" y="251" width="3" height="8" fill="#a80000"/>
<rect x="848" y="252" width="1" height="6" fill="#ff1a1a"/>
<rect x="852" y="247" width="1" height="25" fill="#2f4f4f"/>
<rect x="851" y="251" width="3" height="18" fill="#3f6359"/>
<rect x="852" y="252" width="1" height="16" fill="#a4f7a4"/>
<rect x="856" y="260" width="1" height="15" fill="#2f4f4f"/>
<rect x="855" y="268" width="3" height="3" fill="#3f6359"/>
<rect x="856" y="269" width="1" height="1" fill="#a4f7a4"/>
<rect x="860" y="265" width="1" height="24" fill="#2f4f4f"/>
<rect x="859" y="270" width="3" height="18" fill="#3f6359"/>
<rect x="860" y="271" width="1" height="16" fill="#a4f7a4"/>
<rect x="864" y="283" width="1" height="17" fill="#2f4f4f"/>
<rect x="863" y="287" width="3" height="6" fill="#3f6359"/>
<rect x="864" y="288" width="1" height="4" fill="#a4f7a4"/>
<rect x="868" y="287" width="1" height="15" fill="#960000"/>
<rect x="867" y="289" width="3" height="4" fill="#a80000"/>
<rect x="868" y="290" width="1" height="2" fill="#ff1a1a"/>
<rect x="872" y="287" width="1" height="12" fill="#2f4f4f"/>
<rect x="871" y="289" width="3" height="6" fill="#3f6359"/>
<rect x="872" y="290" width="1" height="4" fill="#a4f7a4"/>
<rect x="876" y="287" width="1" height="12" fill="#960000"/>
<rect x="875" y="288" width="3" height="8" fill="#a80000"/>
<rect x="876" y="289" width="1" height="6" fill="#ff1a1a"/>
<rect x="880" y="270" width="1" height="19" fill="#960000"/>
<rect x="879" y="275" width="3" height="13" fill="#a80000"/>
<rect x="880" y="276" width="1" height="11" fill="#ff1a1a"/>
<rect x="884" y="261" width="1" height="22" fill="#960000"/>
<rect x="883" y="262" width="3" height="14" fill="#a80000"/>
<rect x="884" y="263" width="1" height="12" fill="#ff1a1a"/>
<rect x="888" y="261" width="1" height="16" fill="#2f4f4f"/>
<rect x="887" y="262" width="3" height="14" fill="#3f6359"/>
<rect x="888" y="263" width="1" height="12" fill="#a4f7a4"/>
<rect x="892" y="269" width="1" height="12" fill="#2f4f4f"/>
<rect x="891" y="274" width="3" height="1" fill="#3f6359"/>
<rect x="896" y="273" width="1" height="13" fill="#960000"/>
<rect x="895" y="274" width="3" height="5" fill="#a80000"/>
<rect x="896" y="275" width="1" height="3" fill="#ff1a1a"/>
<rect x="900" y="275" width="1" height="12" fill="#2f4f4f"/>
<rect x="899" y="276" width="3" height="6" fill="#3f6359"/>
<rect x="900" y="277" width="1" height="4" fill="#a4f7a4"/>
<rect x="904" y="268" width="1" height="16" fill="#960000"/>
<rect x="903" y="271" width="3" height="11" fill="#a80000"/>
<rect x="904" y="272" width="1" height="9" fill="#ff1a1a"/>
<rect x="908" y="263" width="1" height="19" fill="#2f4f4f"/>
<rect x="907" y="271" width="3" height="7" fill="#3f6359"/>
<rect x="908" y="272" width="1" height="5" fill="#a4f7a4"/>
<rect x="912" y="272" width="1" height="12" fill="#2f4f4f"/>
<rect x="911" y="277" width="3" height="5" fill="#3f6359"/>
<rect x="912" y="278" width="1" height="3" fill="#a4f7a4"/>
<rect x="916" y="288" width="1" height="37" fill="#960000"/>
<rect x="915" y="292" width="3" height="12" fill="#a80000"/>
<rect x="916" y="293" width="1" height="10" fill="#ff1a1a"/>
<rect x="920" y="288" width="1" height="10" fill="#960000"/>
<rect x="919" y="289" width="3" height="4" fill="#a80000"/>
<rect x="920" y="290" width="1" height="2" fill="#ff1a1a"/>
<rect x="924" y="286" width="1" height="11" fill="#2f4f4f"/>
<rect x="923" y="289" width="3" height="5" fill="#3f6359"/>
<rect x="924" y="290" width="1" height="3" fill="#a4f7a4"/>
<rect x="928" y="283" width="1" height="16" fill="#960000"/>
<rect x="927" y="287" width="3" height="7" fill="#a80000"/>
<rect x="928" y="288" width="1" height="5" fill="#ff1a1a"/>
<rect x="932" y="282" width="1" height="19" fill="#2f4f4f"/>
<rect x="931" y="287" width="3" height="2" fill="#3f6359"/>
<rect x="936" y="282" width="1" height="8" fill="#960000"/>
<rect x="935" y="284" width="3" height="4" fill="#a80000"/>
<rect x="936" y="285" width="1" height="2" fill="#ff1a1a"/>
<rect x="940" y="270" width="1" height="15" fill="#960000"/>
<rect x="939" y="276" width="3" height="8" fill="#a80000"/>
<rect x="940" y="277" width="1" height="6" fill="#ff1a1a"/>
<rect x="944" y="271" width="1" height="8" fill="#2f4f4f"/>
<rect x="943" y="275" width="3" height="3" fill="#3f6359"/>
<rect x="944" y="276" width="1" height="1" fill="#a4f7a4"/>
<rect x="948" y="264" width="1" height="15" fill="#960000"/>
<rect x="947" y="270" width="3" height="8" fill="#a80000"/>
<rect x="948" y="271" width="1" height="6" fill="#ff1a1a"/>
<rect x="952" y="260" width="1" height="20" fill="#960000"/>
<rect x="951" y="264" width="3" height="7" fill="#a80000"/>
<rect x="952" y="265" width="1" height="5" fill="#ff1a1a"/>
<rect x="956" y="245" width="1" height="21" fill="#960000"/>
<rect x="955" y="248" width="3" height="16" fill="#a80000"/>
<rect x="956" y="249" width="1" height="14" fill="#ff1a1a"/>
<rect x="960" y="244" width="1" height="6" fill="#960000"/>
<rect x="959" y="245" width="3" height="4" fill="#a80000"/>
<rect x="960" y="246" width="1" height="2" fill="#ff1a1a"/>
<rect x="964" y="234" width="1" height="17" fill="#960000"/>
<rect x="963" y="243" width="3" height="5" fill="#a80000"/>
<rect x="964" y="244" width="1" height="3" fill="#ff1a1a"/>
<rect x="968" y="241" width="1" height="16" fill="#2f4f4f"/>
<rect x="967" y="243" width="3" height="12" fill="#3f6359"/>
<rect x="968" y="244" width="1" height="10" fill="#a4f7a4"/>
<rect x="972" y="253" width="1" height="14" fill="#2f4f4f"/>
<rect x="971" y="254" width="3" height="9" fill="#3f6359"/>
<rect x="972" y="255" width="1" height="7" fill="#a4f7a4"/>
<rect x="976" y="250" width="1" height="16" fill="#960000"/>
<rect x="975" y="250" width="3" height="13" fill="#a80000"/>
<rect x="976" y="251" width="1" height="11" fill="#ff1a1a"/>
<rect x="980" y="250" width="1" height="13" fill="#2f4f4f"/>
<rect x="979" y="250" width="3" height="12" fill="#3f6359"/>
<rect x="980" y="251" width="1" height="10" fill="#a4f7a4"/>
<rect x="984" y="256" width="1" height="12" fill="#2f4f4f"/>
<rect x="983" y="262" width="3" height="2" fill="#3f6359"/>
<rect x="988" y="247" width="1" height="19" fill="#960000"/>
<rect x="987" y="255" width="3" height="10" fill="#a80000"/>
<rect x="988" y="256" width="1" height="8" fill="#ff1a1a"/>
<rect x="992" y="248" width="1" height="14" fill="#960000"/>
<rect x="991" y="252" width="3" height="4" fill="#a80000"/>
<rect x="992" y="253" width="1" height="2" fill="#ff1a1a"/>
<rect x="996" y="249" width="1" height="13" fill="#2f4f4f"/>
<rect x="995" y="252" width="3" height="5" fill="#3f6359"/>
<rect x="996" y="253" width="1" height="3" fill="#a4f7a4"/>
<rect x="1000" y="253" width="1" height="12" fill="#2f4f4f"/>
<rect x="999" y="256" width="3" height="8" fill="#3f6359"/>
<rect x="1000" y="257" width="1" height="6" fill="#a4f7a4"/>
<rect x="1004" y="256" width="1" height="16" fill="#2f4f4f"/>
<rect x="1003" y="264" width="3" height="2" fill="#3f6359"/>
<rect x="1008" y="262" width="1" height="7" fill="#960000"/>
<rect x="1007" y="265" width="3" height="2" fill="#a80000"/>
<rect x="1012" y="260" width="1" height="14" fill="#2f4f4f"/>
<rect x="1011" y="264" width="3" height="2" fill="#3f6359"/>
<rect x="1016" y="259" width="1" height="9" fill="#960000"/>
<rect x="1015" y="263" width="3" height="3" fill="#a80000"/>
<rect x="1016" y="264" width="1" height="1" fill="#ff1a1a"/>
<rect x="1020" y="261" width="1" height="10" fill="#2f4f4f"/>
<rect x="1019" y="264" width="3" height="1" fill="#3f6359"/>
<rect x="1024" y="227" width="1" height="42" fill="#960000"/>
<rect x="1023" y="229" width="3" height="36" fill="#a80000"/>
<rect x="1024" y="230" width="1" height="34" fill="#ff1a1a"/>
<rect x="1028" y="228" width="1" height="14" fill="#2f4f4f"/>
<rect x="1027" y="230" width="3" height="8" fill="#3f6359"/>
<rect x="1028" y="231" width="1" height="6" fill="#a4f7a4"/>
<rect x="1032" y="236" width="1" height="14" fill="#2f4f4f"/>
<rect x="1031" y="237" width="3" height="12" fill="#3f6359"/>
<rect x="1032" y="238" width="1" height="10" fill="#a4f7a4"/>
<rect x="1036" y="257" width="1" height="29" fill="#960000"/>
<rect x="1035" y="258" width="3" height="8" fill="#a80000"/>
<rect x="1036" y="259" width="1" height="6" fill="#ff1a1a"/>
<rect x="1040" y="257" width="1" height="13" fill="#2f4f4f"/>
<rect x="1039" y="258" width="3" height="8" fill="#3f6359"/>
<rect x="1040" y="259" width="1" height="6" fill="#a4f7a4"/>
<rect x="1044" y="258" width="1" height="11" fill="#960000"/>
<rect x="1043" y="264" width="3" height="2" fill="#a80000"/>
<rect x="1048" y="255" width="1" height="13" fill="#960000"/>
<rect x="1047" y="255" width="3" height="11" fill="#a80000"/>
<rect x="1048" y="256" width="1" height="9" fill="#ff1a1a"/>
<rect x="1052" y="251" width="1" height="14" fill="#2f4f4f"/>
<rect x="1051" y="255" width="3" height="1" fill="#3f6359"/>
<rect x="1056" y="253" width="1" height="7" fill="#960000"/>
<rect x="1055" y="253" width="3" height="6" fill="#a80000"/>
<rect x="1056" y="254" width="1" height="4" fill="#ff1a1a"/>
<rect x="1060" y="249" width="1" height="11" fill="#2f4f4f"/>
<rect x="1059" y="252" width="3" height="7" fill="#3f6359"/>
<rect x="1060" y="253" width="1" height="5" fill="#a4f7a4"/>
<rect x="1064" y="257" width="1" height="11" fill="#2f4f4f"/>
<rect x="1063" y="258" width="3" height="9" fill="#3f6359"/>
<rect x="1064" y="259" width="1" height="7" fill="#a4f7a4"/>
<rect x="1068" y="264" width="1" height="8" fill="#2f4f4f"/>
<rect x="1067" y="267" width="3" height="2" fill="#3f6359"/>
<rect x="1072" y="262" width="1" height="14" fill="#2f4f4f"/>
<rect x="1071" y="268" width="3" height="2" fill="#3f6359"/>
<rect x="1076" y="265" width="1" height="37" fill="#2f4f4f"/>
<rect x="1075" y="270" width="3" height="27" fill="#3f6359"/>
<rect x="1076" y="271" width="1" height="25" fill="#a4f7a4"/>
<rect x="1080" y="289" width="1" height="23" fill="#960000"/>
<rect x="1079" y="292" width="3" height="5" fill="#a80000"/>
<rect x="1080" y="293" width="1" height="3" fill="#ff1a1a"/>
<rect x="1084" y="279" width="1" height="12" fill="#960000"/>
<rect x="1083" y="280" width="3" height="10" fill="#a80000"/>
<rect x="1084" y="281" width="1" height="8" fill="#ff1a1a"/>
<rect x="1088" y="272" width="1" height="10" fill="#960000"/>
<rect x="1087" y="274" width="3" height="7" fill="#a80000"/>
<rect x="1088" y="275" width="1" height="5" fill="#ff1a1a"/>
<rect x="1092" y="272" width="1" height="9" fill="#2f4f4f"/>
<rect x="1091" y="274" width="3" height="6" fill="#3f6359"/>
<rect x="1092" y="275" width="1" height="4" fill="#a4f7a4"/>
<rect x="1096" y="276" width="1" height="10" fill="#2f4f4f"/>
<rect x="1095" y="279" width="3" height="1" fill="#3f6359"/>
<rect x="1100" y="278" width="1" height="14" fill="#2f4f4f"/>
<rect x="1099" y="280" width="3" height="6" fill="#3f6359"/>
<rect x="1100" y="281" width="1" height="4" fill="#a4f7a4"/>
<rect x="1104" y="282" width="1" height="7" fill="#960000"/>
<rect x="1103" y="286" width="3" height="1" fill="#a80000"/>
<rect x="1108" y="280" width="1" height="22" fill="#2f4f4f"/>
<rect x="1107" y="284" width="3" height="8" fill="#3f6359"/>
<rect x="1108" y="285" width="1" height="6" fill="#a4f7a4"/>
<rect x="1112" y="290" width="1" height="11" fill="#2f4f4f"/>
<rect x="1111" y="292" width="3" height="6" fill="#3f6359"/>
<rect x="1112" y="293" width="1" height="4" fill="#a4f7a4"/>
</g>
<polygon points="675.3,437.6 831.2,262.7 835.9,266.7 845,240.2 820,253 824.7,257 673.9,436.4" fill="#f95757"/>
<polygon points="844.8,241.6 894.3,308.1 889.1,312.3 913.6,326 905.5,299.1 900.4,303.3 846.2,240.4" fill="#f95757"/>
<polygon points="916.6,326.7 1006.3,249.6 1010.8,254.5 1023,229.3 996.7,238.9 1001.1,243.8 915.4,325.3" fill="#f95757"/>
<polygon points="1023.7,228.2 1093.3,309.4 1088.4,313.9 1113.6,326.1 1103.9,299.8 1099,304.2 1025.1,227" fill="#f95757"/>
<polygon points="1114.7,326.9 1137.1,273.9 1143.3,276.1 1142.3,248.1 1123.6,269 1129.8,271.2 1113.1,326.3" fill="#f95757"/>
<g shape-rendering="crispEdges" fill="#000">
<rect x="1167" y="0" width="1" height="548"/>
<rect x="0" y="547" width="1168" height="1"/>
<rect x="0" y="549" width="1168" height="1"/>
<rect x="1167" y="549" width="1" height="120"/>
<rect x="0" y="668" width="1168" height="1"/>
<rect x="0" y="670" width="1168" height="1"/>
<rect x="1167" y="670" width="1" height="116"/>
<rect x="0" y="785" width="1168" height="1"/>
</g>
<g shape-rendering="crispEdges" fill="#000">
<rect x="1168" y="16" width="2" height="1"/>
<rect x="1168" y="49" width="2" height="1"/>
<rect x="1168" y="82" width="2" height="1"/>
<rect x="1168" y="115" width="2" height="1"/>
<rect x="1168" y="148" width="2" height="1"/>
<rect x="1168" y="181" width="2" height="1"/>
<rect x="1168" y="214" width="2" height="1"/>
<rect x="1168" y="280" width="2" height="1"/>
<rect x="1168" y="313" width="2" height="1"/>
<rect x="1168" y="346" width="2" height="1"/>
<rect x="1168" y="379" width="2" height="1"/>
<rect x="1168" y="412" width="2" height="1"/>
<rect x="1168" y="445" width="2" height="1"/>
<rect x="1168" y="478" width="2" height="1"/>
<rect x="1168" y="511" width="2" height="1"/>
<rect x="1168" y="544" width="2" height="1"/>
<rect x="1168" y="551" width="2" height="1"/>
<rect x="1168" y="717" width="2" height="1"/>
</g>
<text x="1173" y="19.4" fill="#000" stroke="#000" stroke-width="0.22" >5435.65</text>
<text x="1173" y="52.4" fill="#000" stroke="#000" stroke-width="0.22" >5351.50</text>
<text x="1173" y="85.4" fill="#000" stroke="#000" stroke-width="0.22" >5264.80</text>
<text x="1173" y="118.4" fill="#000" stroke="#000" stroke-width="0.22" >5180.65</text>
<text x="1173" y="151.4" fill="#000" stroke="#000" stroke-width="0.22" >5093.95</text>
<text x="1173" y="184.4" fill="#000" stroke="#000" stroke-width="0.22" >5007.25</text>
<text x="1173" y="217.4" fill="#000" stroke="#000" stroke-width="0.22" >4923.10</text>
<text x="1173" y="283.4" fill="#000" stroke="#000" stroke-width="0.22" >4752.25</text>
<text x="1173" y="316.4" fill="#000" stroke="#000" stroke-width="0.22" >4665.55</text>
<text x="1173" y="349.4" fill="#000" stroke="#000" stroke-width="0.22" >4581.40</text>
<text x="1173" y="382.4" fill="#000" stroke="#000" stroke-width="0.22" >4494.70</text>
<text x="1173" y="415.4" fill="#000" stroke="#000" stroke-width="0.22" >4410.55</text>
<text x="1173" y="448.4" fill="#000" stroke="#000" stroke-width="0.22" >4323.85</text>
<text x="1173" y="481.4" fill="#000" stroke="#000" stroke-width="0.22" >4239.70</text>
<text x="1173" y="514.4" fill="#000" stroke="#000" stroke-width="0.22" >4153.00</text>
<text x="1173" y="547.4" fill="#000" stroke="#000" stroke-width="0.22" >4068.85</text>
<rect x="1169" y="231" width="41" height="11" fill="#ff0000" shape-rendering="crispEdges"/>
<text x="1173" y="240.1" fill="#fff" stroke="#fff" stroke-width="0.22" >4863.32</text>
<rect x="1169" y="241" width="41" height="11" fill="#ff0000" shape-rendering="crispEdges"/>
<text x="1173" y="250.1" fill="#fff" stroke="#fff" stroke-width="0.22" >4837.44</text>
<rect x="1169" y="292" width="41" height="11" fill="#000000" shape-rendering="crispEdges"/>
<text x="1173" y="301.1" fill="#fff" stroke="#fff" stroke-width="0.22" >4706.57</text>
<rect x="1169" y="335" width="41" height="11" fill="#ff0000" shape-rendering="crispEdges"/>
<text x="1173" y="344.1" fill="#fff" stroke="#fff" stroke-width="0.22" >4594.22</text>
<rect x="1169" y="348" width="41" height="11" fill="#ff0000" shape-rendering="crispEdges"/>
<text x="1173" y="357.1" fill="#fff" stroke="#fff" stroke-width="0.22" >4560.58</text>
<g shape-rendering="crispEdges" fill="none" stroke-width="1">
<path d="M0 568.5H1167" stroke="#ff0000"/>
<path d="M0 586.5H1167" stroke="#ff0000" stroke-dasharray="9 3 3 3 3 3" stroke-dashoffset="4"/>
<path d="M0 609.5H1167" stroke="#666" stroke-dasharray="3 3" stroke-dashoffset="3"/>
<path d="M0 632.5H1167" stroke="#0000ff" stroke-dasharray="9 3 3 3 3 3" stroke-dashoffset="4"/>
<path d="M0 650.5H1167" stroke="#0000ff"/>
</g>
<text x="1171" y="560.3" fill="#000" stroke="#000" stroke-width="0.22" >100</text>
<text x="1171" y="612.8" fill="#000" stroke="#000" stroke-width="0.22" >50</text>
<text x="1171" y="664.6" fill="#000" stroke="#000" stroke-width="0.22" >0</text>
<rect x="1169" y="562" width="41" height="11" fill="#ff0000" shape-rendering="crispEdges"/>
<text x="1173" y="571.1" fill="#fff" stroke="#fff" stroke-width="0.22" >85.0000</text>
<rect x="1169" y="580" width="41" height="11" fill="#ff0000" shape-rendering="crispEdges"/>
<text x="1173" y="589.1" fill="#fff" stroke="#fff" stroke-width="0.22" >70.0000</text>
<rect x="1169" y="626" width="41" height="11" fill="#0000ff" shape-rendering="crispEdges"/>
<text x="1173" y="635.1" fill="#fff" stroke="#fff" stroke-width="0.22" >30.0000</text>
<rect x="1169" y="644" width="41" height="11" fill="#0000ff" shape-rendering="crispEdges"/>
<text x="1173" y="653.1" fill="#fff" stroke="#fff" stroke-width="0.22" >15.0000</text>
<path d="M-3.5 611.6L0.5 612.8L4.5 616.9L8.5 622.1L12.5 620.9L16.5 624L20.5 625.1L24.5 623.9L28.5 624.8L32.5 617.3L36.5 616.9L40.5 612.7L44.5 606.4L48.5 608.1L52.5 609.7L56.5 606.7L60.5 605.7L64.5 607.8L68.5 606.3L72.5 607.7L76.5 606.1L80.5 605.3L84.5 602.6L88.5 601.2L92.5 601.2L96.5 593.9L100.5 588.7L104.5 586.6L108.5 590L112.5 587.5L116.5 585.2L120.5 583.2L124.5 587.9L128.5 592L132.5 592.2L136.5 598.6L140.5 597.9L144.5 596.3L148.5 596.3L152.5 592.6L156.5 593.8L160.5 595.6L164.5 593.2L168.5 596.6L172.5 596.8L176.5 594.6L180.5 597.1L184.5 600.4L188.5 601L192.5 597L196.5 598.3L200.5 597.2L204.5 599.8L208.5 595.8L212.5 592.2L216.5 589.5L220.5 582L224.5 580.5L228.5 578.2L232.5 585.4L236.5 594.9L240.5 592.6L244.5 590.8L248.5 594.2L252.5 601.1L256.5 615.5L260.5 621L264.5 616.2L268.5 614.2L272.5 612.9L276.5 610.5L280.5 610.9L284.5 613.9L288.5 614.2L292.5 610.8L296.5 611.6L300.5 611.6L304.5 614.7L308.5 618.6L312.5 619.3L316.5 615.7L320.5 613.3L324.5 615.9L328.5 616L332.5 610.1L336.5 608.6L340.5 614.3L344.5 615.2L348.5 613.9L352.5 615.8L356.5 615.8L360.5 611.8L364.5 608.1L368.5 606L372.5 605.2L376.5 603.7L380.5 601.6L384.5 603.7L388.5 602.8L392.5 602.8L396.5 604.5L400.5 607.2L404.5 607.2L408.5 606.8L412.5 610.2L416.5 609.4L420.5 608L424.5 608L428.5 613.7L432.5 620L436.5 617.6L440.5 614.6L444.5 618.6L448.5 615.9L452.5 620.6L456.5 624L460.5 627L464.5 624.7L468.5 625.8L472.5 625.9L476.5 625L480.5 624.9L484.5 623.6L488.5 620.3L492.5 621.9L496.5 622.6L500.5 624.4L504.5 623L508.5 623.2L512.5 624.3L516.5 624.4L520.5 633.7L524.5 637.1L528.5 639L532.5 640.3L536.5 637.7L540.5 643.1L544.5 649.6L548.5 649.7L552.5 645.5L556.5 639.4L560.5 633.6L564.5 634L568.5 636.7L572.5 640.1L576.5 642.5L580.5 646.6L584.5 647.9L588.5 651.5L592.5 635.1L596.5 629.4L600.5 629.6L604.5 631.6L608.5 632.9L612.5 628.9L616.5 628L620.5 627.9L624.5 624.8L628.5 617.1L632.5 613.8L636.5 615.4L640.5 615.1L644.5 615.2L648.5 616.7L652.5 617.3L656.5 619.3L660.5 622.3L664.5 622.3L668.5 623.3L672.5 625.6L676.5 624.2L680.5 619.3L684.5 619.3L688.5 620.8L692.5 614.2L696.5 612.8L700.5 615.6L704.5 613.4L708.5 609.9L712.5 608.5L716.5 609.8L720.5 612.1L724.5 608.1L728.5 605.9L732.5 607.4L736.5 606.1L740.5 601.3L744.5 598.4L748.5 596.7L752.5 597.6L756.5 595.4L760.5 593.6L764.5 592.3L768.5 592.1L772.5 596.4L776.5 605.2L780.5 609.5L784.5 608.1L788.5 603.8L792.5 604.2L796.5 606.2L800.5 605.4L804.5 603.2L808.5 602.8L812.5 603.8L816.5 605.4L820.5 607.3L824.5 607.1L828.5 604.5L832.5 606L836.5 607.1L840.5 602L844.5 593.6L848.5 591.2L852.5 592.6L856.5 595.3L860.5 598.7L864.5 603.2L868.5 604.1L872.5 603.8L876.5 603.8L880.5 600L884.5 598.2L888.5 597.5L892.5 599.6L896.5 601.3L900.5 602L904.5 600.4L908.5 599.4L912.5 601.7L916.5 611.9L920.5 607.4L924.5 606.9L928.5 606.9L932.5 606.9L936.5 605.1L940.5 602.2L944.5 601.4L948.5 600.3L952.5 599.8L956.5 595.2L960.5 592.6L964.5 591.6L968.5 594.8L972.5 599.9L976.5 599.2L980.5 598.7L984.5 601.3L988.5 599.4L992.5 598.8L996.5 599.1L1000.5 600.9L1004.5 603.7L1008.5 604.4L1012.5 605L1016.5 603.4L1020.5 604.9L1024.5 597.1L1028.5 592.5L1032.5 596.9L1036.5 610L1040.5 606.8L1044.5 606.8L1048.5 606L1052.5 604.7L1056.5 604L1060.5 603.3L1064.5 607.2L1068.5 609.7L1072.5 610.2L1076.5 616.1L1080.5 622.2L1084.5 614.9L1088.5 611.6L1092.5 611.5L1096.5 613.3L1100.5 614.6L1104.5 614.8L1108.5 617.1L1112.5 618.7" stroke="#ff0000" stroke-width="1" fill="none" stroke-linejoin="round" shape-rendering="crispEdges"/>
<path d="M-3.5 611.1L0.5 613.1L4.5 619.2L8.5 626.6L12.5 624.6L16.5 628.8L20.5 630.4L24.5 628.3L28.5 629.6L32.5 617.7L36.5 617L40.5 610.6L44.5 601.7L48.5 604.5L52.5 607L56.5 602.7L60.5 601.2L64.5 604.7L68.5 602.6L72.5 604.9L76.5 602.5L80.5 601.2L84.5 597.3L88.5 595.2L92.5 595.2L96.5 585.2L100.5 579.1L104.5 576.7L108.5 582.5L112.5 579.5L116.5 576.8L120.5 574.6L124.5 582.2L128.5 588.6L132.5 589L136.5 598.7L140.5 597.7L144.5 595.2L148.5 595.2L152.5 589.7L156.5 591.7L160.5 594.6L164.5 591L168.5 596.3L172.5 596.7L176.5 593.3L180.5 597.2L184.5 602.5L188.5 603.4L192.5 596.9L196.5 598.9L200.5 597L204.5 601.2L208.5 594.8L212.5 589.4L216.5 585.6L220.5 576.1L224.5 574.4L228.5 571.8L232.5 582.5L236.5 595.9L240.5 592.7L244.5 590.2L248.5 595L252.5 604.3L256.5 621.9L260.5 628.1L264.5 621.3L268.5 618.5L272.5 616.6L276.5 613.2L280.5 613.7L284.5 617.7L288.5 618L292.5 613L296.5 614.1L300.5 614.1L304.5 618.5L308.5 623.7L312.5 624.7L316.5 619L320.5 615.2L324.5 618.9L328.5 619L332.5 609.9L336.5 607.5L340.5 616.2L344.5 617.4L348.5 615.4L352.5 618.3L356.5 618.3L360.5 611.8L364.5 606L368.5 603L372.5 601.9L376.5 599.5L380.5 596.5L384.5 600.2L388.5 598.7L392.5 598.8L396.5 601.8L400.5 606.5L404.5 606.4L408.5 605.8L412.5 611.7L416.5 610.2L420.5 607.7L424.5 607.7L428.5 617.4L432.5 626.9L436.5 622.6L440.5 617.5L444.5 623.4L448.5 618.9L452.5 625.6L456.5 630.2L460.5 634L464.5 630.3L468.5 631.6L472.5 631.8L476.5 630.3L480.5 630.2L484.5 627.8L488.5 622.1L492.5 624.6L496.5 625.7L500.5 628.6L504.5 626.1L508.5 626.3L512.5 628.1L516.5 628.3L520.5 641.4L524.5 645.3L528.5 647.4L532.5 648.7L536.5 644.4L540.5 650.3L544.5 656.2L548.5 656.3L552.5 650.4L556.5 641.8L560.5 633.8L564.5 634.3L568.5 637.9L572.5 642.3L576.5 645.2L580.5 649.9L584.5 651.4L588.5 655L592.5 634.2L596.5 627.3L600.5 627.5L604.5 630.2L608.5 632L612.5 626.8L616.5 625.7L620.5 625.5L624.5 621.3L628.5 611.3L632.5 607.3L636.5 609.7L640.5 609.3L644.5 609.5L648.5 611.9L652.5 612.9L656.5 616.3L660.5 621L664.5 620.9L668.5 622.5L672.5 626.1L676.5 624L680.5 616.5L684.5 616.5L688.5 619L692.5 609L696.5 607L700.5 611.8L704.5 608.6L708.5 603.5L712.5 601.6L716.5 604L720.5 607.9L724.5 602.2L728.5 599L732.5 601.7L736.5 599.8L740.5 593.2L744.5 589.4L748.5 587.3L752.5 588.9L756.5 586L760.5 583.8L764.5 582.2L768.5 582L772.5 589.8L776.5 604.5L780.5 610.9L784.5 608.7L788.5 602.2L792.5 602.9L796.5 606.1L800.5 604.8L804.5 601.4L808.5 600.8L812.5 602.5L816.5 605.1L820.5 608.2L824.5 608L828.5 603.4L832.5 606.1L836.5 608L840.5 599.4L844.5 587.3L848.5 584.2L852.5 586.7L856.5 591.1L860.5 596.7L864.5 603.7L868.5 605.1L872.5 604.6L876.5 604.6L880.5 598.5L884.5 595.6L888.5 594.6L892.5 598.2L896.5 601L900.5 602.1L904.5 599.5L908.5 597.9L912.5 601.8L916.5 617.8L920.5 610.2L924.5 609.3L928.5 609.3L932.5 609.3L936.5 606.3L940.5 601.4L944.5 600.1L948.5 598.2L952.5 597.5L956.5 590.3L960.5 586.6L964.5 585.2L968.5 590.7L972.5 599.3L976.5 598.2L980.5 597.4L984.5 601.9L988.5 598.6L992.5 597.6L996.5 598.2L1000.5 601.3L1004.5 606.1L1008.5 607.2L1012.5 608.3L1016.5 605.4L1020.5 607.9L1024.5 594.3L1028.5 587.5L1032.5 594.9L1036.5 614.2L1040.5 609.4L1044.5 609.4L1048.5 608.1L1052.5 606L1056.5 604.9L1060.5 603.7L1064.5 609.8L1068.5 613.5L1072.5 614.3L1076.5 622.7L1080.5 630.5L1084.5 618.8L1088.5 613.8L1092.5 613.6L1096.5 616.2L1100.5 618L1104.5 618.4L1108.5 621.6L1112.5 623.9" stroke="#0000ff" stroke-width="1" fill="none" stroke-linejoin="round" shape-rendering="crispEdges"/>
<path d="M-3.5 609.8L0.5 614.2L4.5 626.7L8.5 638.5L12.5 633.8L16.5 640.2L20.5 642.4L24.5 637.4L28.5 639.5L32.5 613.3L36.5 611.9L40.5 599.9L44.5 586.2L48.5 592.8L52.5 598.7L56.5 591.5L60.5 589L64.5 597.8L68.5 593.7L72.5 599.7L76.5 594.7L80.5 592L84.5 584.6L88.5 581.1L92.5 581L96.5 567.5L100.5 562.1L104.5 560.4L108.5 572.9L112.5 569.1L116.5 566L120.5 563.6L124.5 579.1L128.5 591.3L132.5 591.9L136.5 609.5L140.5 607.1L144.5 601.1L148.5 601.1L152.5 588.4L156.5 592.6L160.5 599.1L164.5 590.5L168.5 601.9L172.5 602.7L176.5 594.1L180.5 602.9L184.5 613.5L188.5 615.4L192.5 598.3L196.5 602.7L200.5 598.1L204.5 607.5L208.5 592.5L212.5 582.5L216.5 576.5L220.5 565.3L224.5 563.6L228.5 561.3L232.5 580.7L236.5 602.4L240.5 596.4L244.5 591.9L248.5 600L252.5 614.7L256.5 636.7L260.5 643L264.5 630.5L268.5 625.4L272.5 621.8L276.5 615.3L280.5 616.3L284.5 623.4L288.5 624.1L292.5 612.8L296.5 615.3L300.5 615.3L304.5 624.9L308.5 634.6L312.5 636.1L316.5 621.8L320.5 613.3L324.5 621.4L328.5 621.8L332.5 601.7L336.5 597.4L340.5 617.3L344.5 619.7L348.5 615.2L352.5 621.5L356.5 621.5L360.5 606.5L364.5 595.2L368.5 589.9L372.5 588L376.5 584.1L380.5 579.2L384.5 589.8L388.5 587.1L392.5 587.4L396.5 596.5L400.5 609L404.5 608.9L408.5 607L412.5 621.9L416.5 617.2L420.5 609.7L424.5 609.7L428.5 631.7L432.5 644.9L436.5 634.3L440.5 622.6L444.5 632.7L448.5 622.7L452.5 634L456.5 640.6L460.5 645.3L464.5 637.7L468.5 639.8L472.5 640L476.5 636.5L480.5 636.2L484.5 629.9L488.5 616L492.5 622.7L496.5 625.4L500.5 632.4L504.5 625.9L508.5 626.6L512.5 631.2L516.5 631.9L520.5 653.5L524.5 657.1L528.5 658.8L532.5 659.8L536.5 651L540.5 657.7L544.5 662.3L548.5 662.4L552.5 652.6L556.5 638.7L560.5 626.1L564.5 627.2L568.5 634.7L572.5 642.8L576.5 647.4L580.5 653.9L584.5 655.6L588.5 659.6L592.5 628.7L596.5 619.1L600.5 619.6L604.5 624.8L608.5 628.4L612.5 619.6L616.5 617.7L620.5 617.4L624.5 609.8L628.5 593.8L632.5 588.2L636.5 594.6L640.5 594L644.5 594.4L648.5 601.6L652.5 604.7L656.5 614.1L660.5 625.4L664.5 625.2L668.5 629L672.5 636.4L676.5 630.5L680.5 611.5L684.5 611.5L688.5 618.3L692.5 596.8L696.5 593.3L700.5 606.3L704.5 599.8L708.5 590.6L712.5 587.5L716.5 594L720.5 604.3L724.5 592.8L728.5 587.2L732.5 594.3L736.5 590.6L740.5 579.6L744.5 574.3L748.5 571.7L752.5 575.8L756.5 571.8L760.5 569L764.5 567L768.5 566.8L772.5 587.1L776.5 616L780.5 625.8L784.5 620.5L788.5 605.9L792.5 607.2L796.5 613.2L800.5 610.1L804.5 602L808.5 600.5L812.5 604.7L816.5 611L820.5 617.8L824.5 617.2L828.5 604L832.5 610.6L836.5 615.2L840.5 593.8L844.5 574.8L848.5 571.1L852.5 576.5L856.5 586.1L860.5 597.6L864.5 610.8L868.5 613.3L872.5 611.9L876.5 611.9L880.5 597.1L884.5 591L888.5 588.9L892.5 597.8L896.5 604.4L900.5 607.1L904.5 600.1L908.5 595.8L912.5 605.9L916.5 634.5L920.5 617L924.5 615.1L928.5 615.2L932.5 615.2L936.5 607.4L940.5 596.3L944.5 593.5L948.5 589.7L952.5 588.3L956.5 575.7L960.5 570.9L964.5 569.1L968.5 583.3L972.5 602.3L976.5 599.8L980.5 598L984.5 607.8L988.5 599.7L992.5 597.4L996.5 598.8L1000.5 606.5L1004.5 617.3L1008.5 619.6L1012.5 622L1016.5 612.3L1020.5 618.3L1024.5 586.3L1028.5 576.1L1032.5 591.5L1036.5 623.2L1040.5 614.2L1044.5 614.2L1048.5 611.7L1052.5 607.4L1056.5 605.1L1060.5 602.5L1064.5 615.4L1068.5 622.3L1072.5 623.9L1076.5 637.4L1080.5 646.8L1084.5 622.7L1088.5 613.7L1092.5 613.2L1096.5 618.3L1100.5 621.8L1104.5 622.6L1108.5 629L1112.5 633.1" stroke="#000000" stroke-width="1" fill="none" stroke-linejoin="round" shape-rendering="crispEdges"/>
<g shape-rendering="crispEdges">
<rect x="3" y="716" width="3" height="2" fill="#ffa07a"/>
<rect x="7" y="716" width="3" height="6" fill="#ffa07a"/>
<rect x="11" y="716" width="3" height="6" fill="#ffa07a"/>
<rect x="15" y="716" width="3" height="8" fill="#ffa07a"/>
<rect x="19" y="716" width="3" height="3" fill="#ffa07a"/>
<rect x="23" y="716" width="3" height="3" fill="#ffa07a"/>
<rect x="27" y="715" width="3" height="1" fill="#1e90ff"/>
<rect x="31" y="711" width="3" height="5" fill="#1e90ff"/>
<rect x="35" y="712" width="3" height="4" fill="#1e90ff"/>
<rect x="39" y="707" width="3" height="9" fill="#1e90ff"/>
<rect x="43" y="707" width="3" height="9" fill="#1e90ff"/>
<rect x="47" y="710" width="3" height="6" fill="#1e90ff"/>
<rect x="51" y="713" width="3" height="3" fill="#1e90ff"/>
<rect x="55" y="711" width="3" height="5" fill="#1e90ff"/>
<rect x="59" y="714" width="3" height="2" fill="#1e90ff"/>
<rect x="63" y="714" width="3" height="2" fill="#1e90ff"/>
<rect x="67" y="716" width="3" height="1" fill="#ffa07a"/>
<rect x="71" y="716" width="3" height="1" fill="#ffa07a"/>
<rect x="75" y="716" width="3" height="1" fill="#ffa07a"/>
<rect x="79" y="715" width="3" height="1" fill="#1e90ff"/>
<rect x="83" y="714" width="3" height="2" fill="#1e90ff"/>
<rect x="87" y="713" width="3" height="3" fill="#1e90ff"/>
<rect x="91" y="713" width="3" height="3" fill="#1e90ff"/>
<rect x="95" y="711" width="3" height="5" fill="#1e90ff"/>
<rect x="99" y="707" width="3" height="9" fill="#1e90ff"/>
<rect x="103" y="711" width="3" height="5" fill="#1e90ff"/>
<rect x="107" y="713" width="3" height="3" fill="#1e90ff"/>
<rect x="111" y="713" width="3" height="3" fill="#1e90ff"/>
<rect x="115" y="713" width="3" height="3" fill="#1e90ff"/>
<rect x="119" y="714" width="3" height="2" fill="#1e90ff"/>
<rect x="123" y="716" width="3" height="2" fill="#ffa07a"/>
<rect x="127" y="716" width="3" height="6" fill="#ffa07a"/>
<rect x="131" y="716" width="3" height="7" fill="#ffa07a"/>
<rect x="135" y="716" width="3" height="9" fill="#ffa07a"/>
<rect x="139" y="716" width="3" height="6" fill="#ffa07a"/>
<rect x="143" y="716" width="3" height="6" fill="#ffa07a"/>
<rect x="147" y="716" width="3" height="2" fill="#ffa07a"/>
<rect x="151" y="715" width="3" height="1" fill="#1e90ff"/>
<rect x="155" y="716" width="3" height="1" fill="#ffa07a"/>
<rect x="159" y="715" width="3" height="1" fill="#1e90ff"/>
<rect x="163" y="715" width="3" height="1" fill="#1e90ff"/>
<rect x="167" y="716" width="3" height="2" fill="#ffa07a"/>
<rect x="171" y="716" width="3" height="2" fill="#ffa07a"/>
<rect x="175" y="716" width="3" height="1" fill="#ffa07a"/>
<rect x="179" y="716" width="3" height="2" fill="#ffa07a"/>
<rect x="183" y="716" width="3" height="3" fill="#ffa07a"/>
<rect x="187" y="716" width="3" height="1" fill="#ffa07a"/>
<rect x="191" y="716" width="3" height="1" fill="#ffa07a"/>
<rect x="195" y="716" width="3" height="1" fill="#ffa07a"/>
<rect x="199" y="715" width="3" height="1" fill="#1e90ff"/>
<rect x="203" y="716" width="3" height="1" fill="#ffa07a"/>
<rect x="207" y="713" width="3" height="3" fill="#1e90ff"/>
<rect x="211" y="711" width="3" height="5" fill="#1e90ff"/>
<rect x="215" y="709" width="3" height="7" fill="#1e90ff"/>
<rect x="219" y="706" width="3" height="10" fill="#1e90ff"/>
<rect x="223" y="704" width="3" height="12" fill="#1e90ff"/>
<rect x="227" y="707" width="3" height="9" fill="#1e90ff"/>
<rect x="231" y="715" width="3" height="1" fill="#1e90ff"/>
<rect x="235" y="716" width="3" height="4" fill="#ffa07a"/>
<rect x="239" y="716" width="3" height="5" fill="#ffa07a"/>
<rect x="243" y="716" width="3" height="2" fill="#ffa07a"/>
<rect x="247" y="716" width="3" height="5" fill="#ffa07a"/>
<rect x="251" y="716" width="3" height="11" fill="#ffa07a"/>
<rect x="255" y="716" width="3" height="26" fill="#ffa07a"/>
<rect x="259" y="716" width="3" height="17" fill="#ffa07a"/>
<rect x="263" y="716" width="3" height="14" fill="#ffa07a"/>
<rect x="267" y="716" width="3" height="4" fill="#ffa07a"/>
<rect x="271" y="715" width="3" height="1" fill="#1e90ff"/>
<rect x="275" y="711" width="3" height="5" fill="#1e90ff"/>
<rect x="279" y="713" width="3" height="3" fill="#1e90ff"/>
<rect x="283" y="715" width="3" height="1" fill="#1e90ff"/>
<rect x="287" y="714" width="3" height="2" fill="#1e90ff"/>
<rect x="291" y="710" width="3" height="6" fill="#1e90ff"/>
<rect x="295" y="712" width="3" height="4" fill="#1e90ff"/>
<rect x="299" y="713" width="3" height="3" fill="#1e90ff"/>
<rect x="303" y="716" width="3" height="2" fill="#ffa07a"/>
<rect x="307" y="716" width="3" height="5" fill="#ffa07a"/>
<rect x="311" y="716" width="3" height="4" fill="#ffa07a"/>
<rect x="315" y="714" width="3" height="2" fill="#1e90ff"/>
<rect x="319" y="714" width="3" height="2" fill="#1e90ff"/>
<rect x="323" y="715" width="3" height="1" fill="#1e90ff"/>
<rect x="327" y="712" width="3" height="4" fill="#1e90ff"/>
<rect x="331" y="709" width="3" height="7" fill="#1e90ff"/>
<rect x="335" y="709" width="3" height="7" fill="#1e90ff"/>
<rect x="339" y="716" width="3" height="2" fill="#ffa07a"/>
<rect x="343" y="716" width="3" height="1" fill="#ffa07a"/>
<rect x="347" y="716" width="3" height="1" fill="#ffa07a"/>
<rect x="351" y="716" width="3" height="3" fill="#ffa07a"/>
<rect x="355" y="716" width="3" height="1" fill="#ffa07a"/>
<rect x="359" y="713" width="3" height="3" fill="#1e90ff"/>
<rect x="363" y="709" width="3" height="7" fill="#1e90ff"/>
<rect x="367" y="710" width="3" height="6" fill="#1e90ff"/>
<rect x="371" y="711" width="3" height="5" fill="#1e90ff"/>
<rect x="375" y="711" width="3" height="5" fill="#1e90ff"/>
<rect x="379" y="711" width="3" height="5" fill="#1e90ff"/>
<rect x="383" y="715" width="3" height="1" fill="#1e90ff"/>
<rect x="387" y="715" width="3" height="1" fill="#1e90ff"/>
<rect x="391" y="716" width="3" height="1" fill="#ffa07a"/>
<rect x="395" y="716" width="3" height="3" fill="#ffa07a"/>
<rect x="399" y="716" width="3" height="4" fill="#ffa07a"/>
<rect x="403" y="716" width="3" height="4" fill="#ffa07a"/>
<rect x="407" y="716" width="3" height="3" fill="#ffa07a"/>
<rect x="411" y="716" width="3" height="3" fill="#ffa07a"/>
<rect x="415" y="716" width="3" height="3" fill="#ffa07a"/>
<rect x="419" y="716" width="3" height="1" fill="#ffa07a"/>
<rect x="423" y="716" width="3" height="2" fill="#ffa07a"/>
<rect x="427" y="716" width="3" height="6" fill="#ffa07a"/>
<rect x="431" y="716" width="3" height="7" fill="#ffa07a"/>
<rect x="435" y="716" width="3" height="2" fill="#ffa07a"/>
<rect x="439" y="716" width="3" height="1" fill="#ffa07a"/>
<rect x="443" y="716" width="3" height="2" fill="#ffa07a"/>
<rect x="447" y="716" width="3" height="1" fill="#ffa07a"/>
<rect x="451" y="716" width="3" height="3" fill="#ffa07a"/>
<rect x="455" y="716" width="3" height="5" fill="#ffa07a"/>
<rect x="459" y="716" width="3" height="4" fill="#ffa07a"/>
<rect x="463" y="716" width="3" height="2" fill="#ffa07a"/>
<rect x="467" y="716" width="3" height="4" fill="#ffa07a"/>
<rect x="471" y="714" width="3" height="2" fill="#1e90ff"/>
<rect x="475" y="715" width="3" height="1" fill="#1e90ff"/>
<rect x="479" y="714" width="3" height="2" fill="#1e90ff"/>
<rect x="483" y="711" width="3" height="5" fill="#1e90ff"/>
<rect x="487" y="712" width="3" height="4" fill="#1e90ff"/>
<rect x="491" y="713" width="3" height="3" fill="#1e90ff"/>
<rect x="495" y="713" width="3" height="3" fill="#1e90ff"/>
<rect x="499" y="714" width="3" height="2" fill="#1e90ff"/>
<rect x="503" y="714" width="3" height="2" fill="#1e90ff"/>
<rect x="507" y="715" width="3" height="1" fill="#1e90ff"/>
<rect x="511" y="715" width="3" height="1" fill="#1e90ff"/>
<rect x="515" y="715" width="3" height="1" fill="#1e90ff"/>
<rect x="519" y="716" width="3" height="8" fill="#ffa07a"/>
<rect x="523" y="716" width="3" height="7" fill="#ffa07a"/>
<rect x="527" y="716" width="3" height="10" fill="#ffa07a"/>
<rect x="531" y="716" width="3" height="6" fill="#ffa07a"/>
<rect x="535" y="716" width="3" height="4" fill="#ffa07a"/>
<rect x="539" y="716" width="3" height="11" fill="#ffa07a"/>
<rect x="543" y="716" width="3" height="15" fill="#ffa07a"/>
<rect x="547" y="716" width="3" height="12" fill="#ffa07a"/>
<rect x="551" y="716" width="3" height="4" fill="#ffa07a"/>
<rect x="555" y="713" width="3" height="3" fill="#1e90ff"/>
<rect x="559" y="708" width="3" height="8" fill="#1e90ff"/>
<rect x="563" y="708" width="3" height="8" fill="#1e90ff"/>
<rect x="567" y="713" width="3" height="3" fill="#1e90ff"/>
<rect x="571" y="716" width="3" height="1" fill="#ffa07a"/>
<rect x="575" y="716" width="3" height="6" fill="#ffa07a"/>
<rect x="579" y="716" width="3" height="13" fill="#ffa07a"/>
<rect x="583" y="716" width="3" height="16" fill="#ffa07a"/>
<rect x="587" y="716" width="3" height="15" fill="#ffa07a"/>
<rect x="591" y="710" width="3" height="6" fill="#1e90ff"/>
<rect x="595" y="705" width="3" height="11" fill="#1e90ff"/>
<rect x="599" y="705" width="3" height="11" fill="#1e90ff"/>
<rect x="603" y="712" width="3" height="4" fill="#1e90ff"/>
<rect x="607" y="711" width="3" height="5" fill="#1e90ff"/>
<rect x="611" y="704" width="3" height="12" fill="#1e90ff"/>
<rect x="615" y="707" width="3" height="9" fill="#1e90ff"/>
<rect x="619" y="707" width="3" height="9" fill="#1e90ff"/>
<rect x="623" y="702" width="3" height="14" fill="#1e90ff"/>
<rect x="627" y="694" width="3" height="22" fill="#1e90ff"/>
<rect x="631" y="699" width="3" height="17" fill="#1e90ff"/>
<rect x="635" y="705" width="3" height="11" fill="#1e90ff"/>
<rect x="639" y="710" width="3" height="6" fill="#1e90ff"/>
<rect x="643" y="713" width="3" height="3" fill="#1e90ff"/>
<rect x="647" y="716" width="3" height="2" fill="#ffa07a"/>
<rect x="651" y="716" width="3" height="1" fill="#ffa07a"/>
<rect x="655" y="716" width="3" height="9" fill="#ffa07a"/>
<rect x="659" y="716" width="3" height="10" fill="#ffa07a"/>
<rect x="663" y="716" width="3" height="6" fill="#ffa07a"/>
<rect x="667" y="716" width="3" height="9" fill="#ffa07a"/>
<rect x="671" y="716" width="3" height="8" fill="#ffa07a"/>
<rect x="675" y="716" width="3" height="2" fill="#ffa07a"/>
<rect x="679" y="713" width="3" height="3" fill="#1e90ff"/>
<rect x="683" y="714" width="3" height="2" fill="#1e90ff"/>
<rect x="687" y="713" width="3" height="3" fill="#1e90ff"/>
<rect x="691" y="709" width="3" height="7" fill="#1e90ff"/>
<rect x="695" y="709" width="3" height="7" fill="#1e90ff"/>
<rect x="699" y="712" width="3" height="4" fill="#1e90ff"/>
<rect x="703" y="710" width="3" height="6" fill="#1e90ff"/>
<rect x="707" y="710" width="3" height="6" fill="#1e90ff"/>
<rect x="711" y="713" width="3" height="3" fill="#1e90ff"/>
<rect x="715" y="715" width="3" height="1" fill="#1e90ff"/>
<rect x="719" y="716" width="3" height="1" fill="#ffa07a"/>
<rect x="723" y="710" width="3" height="6" fill="#1e90ff"/>
<rect x="727" y="713" width="3" height="3" fill="#1e90ff"/>
<rect x="731" y="715" width="3" height="1" fill="#1e90ff"/>
<rect x="735" y="714" width="3" height="2" fill="#1e90ff"/>
<rect x="739" y="710" width="3" height="6" fill="#1e90ff"/>
<rect x="743" y="711" width="3" height="5" fill="#1e90ff"/>
<rect x="747" y="711" width="3" height="5" fill="#1e90ff"/>
<rect x="751" y="714" width="3" height="2" fill="#1e90ff"/>
<rect x="755" y="713" width="3" height="3" fill="#1e90ff"/>
<rect x="759" y="714" width="3" height="2" fill="#1e90ff"/>
<rect x="763" y="713" width="3" height="3" fill="#1e90ff"/>
<rect x="767" y="715" width="3" height="1" fill="#1e90ff"/>
<rect x="771" y="716" width="3" height="6" fill="#ffa07a"/>
<rect x="775" y="716" width="3" height="16" fill="#ffa07a"/>
<rect x="779" y="716" width="3" height="14" fill="#ffa07a"/>
<rect x="783" y="716" width="3" height="9" fill="#ffa07a"/>
<rect x="787" y="716" width="3" height="5" fill="#ffa07a"/>
<rect x="791" y="716" width="3" height="1" fill="#ffa07a"/>
<rect x="795" y="716" width="3" height="4" fill="#ffa07a"/>
<rect x="799" y="716" width="3" height="2" fill="#ffa07a"/>
<rect x="803" y="713" width="3" height="3" fill="#1e90ff"/>
<rect x="807" y="714" width="3" height="2" fill="#1e90ff"/>
<rect x="811" y="716" width="3" height="1" fill="#ffa07a"/>
<rect x="815" y="716" width="3" height="1" fill="#ffa07a"/>
<rect x="819" y="716" width="3" height="3" fill="#ffa07a"/>
<rect x="823" y="716" width="3" height="2" fill="#ffa07a"/>
<rect x="827" y="715" width="3" height="1" fill="#1e90ff"/>
<rect x="831" y="716" width="3" height="1" fill="#ffa07a"/>
<rect x="835" y="714" width="3" height="2" fill="#1e90ff"/>
<rect x="839" y="712" width="3" height="4" fill="#1e90ff"/>
<rect x="843" y="704" width="3" height="12" fill="#1e90ff"/>
<rect x="847" y="704" width="3" height="12" fill="#1e90ff"/>
<rect x="851" y="710" width="3" height="6" fill="#1e90ff"/>
<rect x="855" y="715" width="3" height="1" fill="#1e90ff"/>
<rect x="859" y="716" width="3" height="4" fill="#ffa07a"/>
<rect x="863" y="716" width="3" height="7" fill="#ffa07a"/>
<rect x="867" y="716" width="3" height="6" fill="#ffa07a"/>
<rect x="871" y="716" width="3" height="6" fill="#ffa07a"/>
<rect x="875" y="716" width="3" height="3" fill="#ffa07a"/>
<rect x="879" y="715" width="3" height="1" fill="#1e90ff"/>
<rect x="883" y="712" width="3" height="4" fill="#1e90ff"/>
<rect x="887" y="715" width="3" height="1" fill="#1e90ff"/>
<rect x="891" y="716" width="3" height="1" fill="#ffa07a"/>
<rect x="895" y="716" width="3" height="1" fill="#ffa07a"/>
<rect x="899" y="716" width="3" height="2" fill="#ffa07a"/>
<rect x="903" y="716" width="3" height="1" fill="#ffa07a"/>
<rect x="907" y="716" width="3" height="1" fill="#ffa07a"/>
<rect x="911" y="716" width="3" height="2" fill="#ffa07a"/>
<rect x="915" y="716" width="3" height="4" fill="#ffa07a"/>
<rect x="919" y="716" width="3" height="3" fill="#ffa07a"/>
<rect x="923" y="716" width="3" height="3" fill="#ffa07a"/>
<rect x="927" y="716" width="3" height="1" fill="#ffa07a"/>
<rect x="931" y="716" width="3" height="1" fill="#ffa07a"/>
<rect x="935" y="715" width="3" height="1" fill="#1e90ff"/>
<rect x="939" y="713" width="3" height="3" fill="#1e90ff"/>
<rect x="943" y="714" width="3" height="2" fill="#1e90ff"/>
<rect x="947" y="713" width="3" height="3" fill="#1e90ff"/>
<rect x="951" y="712" width="3" height="4" fill="#1e90ff"/>
<rect x="955" y="710" width="3" height="6" fill="#1e90ff"/>
<rect x="959" y="710" width="3" height="6" fill="#1e90ff"/>
<rect x="963" y="712" width="3" height="4" fill="#1e90ff"/>
<rect x="967" y="715" width="3" height="1" fill="#1e90ff"/>
<rect x="971" y="716" width="3" height="3" fill="#ffa07a"/>
<rect x="975" y="716" width="3" height="2" fill="#ffa07a"/>
<rect x="979" y="716" width="3" height="3" fill="#ffa07a"/>
<rect x="983" y="716" width="3" height="4" fill="#ffa07a"/>
<rect x="987" y="716" width="3" height="2" fill="#ffa07a"/>
<rect x="991" y="716" width="3" height="1" fill="#ffa07a"/>
<rect x="995" y="716" width="3" height="1" fill="#ffa07a"/>
<rect x="999" y="716" width="3" height="2" fill="#ffa07a"/>
<rect x="1003" y="716" width="3" height="3" fill="#ffa07a"/>
<rect x="1007" y="716" width="3" height="2" fill="#ffa07a"/>
<rect x="1011" y="716" width="3" height="2" fill="#ffa07a"/>
<rect x="1015" y="716" width="3" height="1" fill="#ffa07a"/>
<rect x="1019" y="716" width="3" height="1" fill="#ffa07a"/>
<rect x="1023" y="709" width="3" height="7" fill="#1e90ff"/>
<rect x="1027" y="710" width="3" height="6" fill="#1e90ff"/>
<rect x="1031" y="714" width="3" height="2" fill="#1e90ff"/>
<rect x="1035" y="716" width="3" height="2" fill="#ffa07a"/>
<rect x="1039" y="716" width="3" height="4" fill="#ffa07a"/>
<rect x="1043" y="716" width="3" height="4" fill="#ffa07a"/>
<rect x="1047" y="716" width="3" height="1" fill="#ffa07a"/>
<rect x="1051" y="716" width="3" height="1" fill="#ffa07a"/>
<rect x="1055" y="715" width="3" height="1" fill="#1e90ff"/>
<rect x="1059" y="716" width="3" height="1" fill="#ffa07a"/>
<rect x="1063" y="716" width="3" height="2" fill="#ffa07a"/>
<rect x="1067" y="716" width="3" height="3" fill="#ffa07a"/>
<rect x="1071" y="716" width="3" height="2" fill="#ffa07a"/>
<rect x="1075" y="716" width="3" height="7" fill="#ffa07a"/>
<rect x="1079" y="716" width="3" height="5" fill="#ffa07a"/>
<rect x="1083" y="716" width="3" height="1" fill="#ffa07a"/>
<rect x="1087" y="714" width="3" height="2" fill="#1e90ff"/>
<rect x="1091" y="714" width="3" height="2" fill="#1e90ff"/>
<rect x="1095" y="714" width="3" height="2" fill="#1e90ff"/>
<rect x="1099" y="715" width="3" height="1" fill="#1e90ff"/>
<rect x="1103" y="715" width="3" height="1" fill="#1e90ff"/>
<rect x="1107" y="716" width="3" height="1" fill="#ffa07a"/>
<rect x="1111" y="716" width="3" height="2" fill="#ffa07a"/>
</g>
<path d="M-3.5 717.1L0.5 717.4L4.5 718.7L8.5 722.2L12.5 723.9L16.5 727L20.5 726.7L24.5 727.3L28.5 725.6L32.5 722.9L36.5 722L40.5 717.1L44.5 714.4L48.5 713.5L52.5 713.3L56.5 710.9L60.5 711L64.5 710.6L68.5 711.8L72.5 712.1L76.5 712.1L80.5 711.3L84.5 710.4L88.5 709L92.5 707.8L96.5 705.8L100.5 701.5L104.5 701.1L108.5 700.5L112.5 699.4L116.5 698.7L120.5 698.1L124.5 700.5L128.5 703.4L132.5 705.9L136.5 710L140.5 711L144.5 712.8L148.5 712.3L152.5 711.4L156.5 712L160.5 711.7L164.5 711.2L168.5 713.1L172.5 713.3L176.5 713.2L180.5 714.3L184.5 715.4L188.5 715.4L192.5 715.2L196.5 715.2L200.5 715.1L204.5 715.5L208.5 713.5L212.5 711.4L216.5 708.5L220.5 703.9L224.5 699.5L228.5 697.6L232.5 700L236.5 703.1L240.5 705.2L244.5 704.7L248.5 707.7L252.5 712.9L256.5 726.8L260.5 729.7L264.5 733.4L268.5 731.4L272.5 729.3L276.5 726L280.5 725.7L284.5 726L288.5 725.2L292.5 721.8L296.5 720.8L300.5 720.2L304.5 722.7L308.5 725.5L312.5 726.1L316.5 723.8L320.5 722.8L324.5 723.1L328.5 721L332.5 717.8L336.5 715.4L340.5 719.1L344.5 718.5L348.5 719L352.5 720.8L356.5 720.5L360.5 718.1L364.5 714.2L368.5 712.3L372.5 711.1L376.5 709.5L380.5 707.6L384.5 708.6L388.5 708.9L392.5 709.7L396.5 711.2L400.5 712.8L404.5 714.3L408.5 714.9L412.5 715.8L416.5 717.2L420.5 716.1L424.5 717.4L428.5 720.5L432.5 723.4L436.5 722.5L440.5 722.3L444.5 723.1L448.5 722.6L452.5 724.8L456.5 727L460.5 728.1L464.5 728.1L468.5 729.8L472.5 727.6L476.5 727.7L480.5 726.5L484.5 724.1L488.5 722.8L492.5 722L496.5 721.1L500.5 721.1L504.5 720.6L508.5 720.6L512.5 720.4L516.5 720.4L520.5 725.8L524.5 728L528.5 732.4L532.5 732.8L536.5 733.6L540.5 739.6L544.5 746.1L548.5 748.9L552.5 747.6L556.5 744L560.5 740L564.5 737.5L568.5 737.8L572.5 739.2L576.5 742.8L580.5 749.3L584.5 755.6L588.5 760.4L592.5 751.4L596.5 745.9L600.5 742.2L604.5 743L608.5 741L612.5 734.9L616.5 732.6L620.5 730L624.5 723.6L628.5 713.5L632.5 709.6L636.5 707.6L640.5 707.2L644.5 707L648.5 709.6L652.5 709.8L656.5 715.1L660.5 719.2L664.5 719.9L668.5 723.8L672.5 726L676.5 725L680.5 722.1L684.5 721.5L688.5 720.6L692.5 717.1L696.5 714.6L700.5 714.5L704.5 711.8L708.5 709.9L712.5 709.5L716.5 709.9L720.5 710.8L724.5 706.8L728.5 706.5L732.5 707.6L736.5 706L740.5 703L744.5 701.4L748.5 699.7L752.5 699.8L756.5 698.7L760.5 698L764.5 696.6L768.5 697.6L772.5 701.9L776.5 710.3L780.5 714.2L784.5 715.4L788.5 716.1L792.5 715.1L796.5 717.3L800.5 717L804.5 714.8L808.5 714.2L812.5 715.2L816.5 716.1L820.5 717.7L824.5 717.7L828.5 716.4L832.5 717.1L836.5 715.8L840.5 713.6L844.5 707L848.5 702.7L852.5 703L856.5 704L860.5 707.4L864.5 710.5L868.5 712.1L872.5 714L876.5 714.4L880.5 713L884.5 710.7L888.5 711.2L892.5 711.7L896.5 712.1L900.5 713.5L904.5 713.1L908.5 713.9L912.5 714.9L916.5 716.9L920.5 717.7L924.5 718.8L928.5 718.5L932.5 718.4L936.5 717.6L940.5 716L944.5 715.4L948.5 713.9L952.5 712.4L956.5 709.6L960.5 707.9L964.5 706.9L968.5 708.2L972.5 710.5L976.5 710.5L980.5 712.2L984.5 713.8L988.5 713.6L992.5 713.2L996.5 713.8L1000.5 715.1L1004.5 716.3L1008.5 716.8L1012.5 717.2L1016.5 717L1020.5 717.2L1024.5 712.6L1028.5 711.1L1032.5 711.9L1036.5 713.7L1040.5 715.9L1044.5 717L1048.5 716.6L1052.5 716.4L1056.5 715.9L1060.5 716.4L1064.5 717.7L1068.5 718.7L1072.5 719.2L1076.5 722.9L1080.5 724.2L1084.5 723.2L1088.5 721.4L1092.5 720.9L1096.5 720.5L1100.5 720.8L1104.5 720.7L1108.5 721.2L1112.5 722.1" stroke="#0000cd" stroke-width="2" fill="none" stroke-linejoin="round" shape-rendering="crispEdges"/>
<path d="M-3.5 717.4L0.5 717.4L4.5 718.1L8.5 720.1L12.5 722L16.5 724.5L20.5 725.6L24.5 726.4L28.5 726L32.5 724.5L36.5 723.2L40.5 720.1L44.5 717.3L48.5 715.4L52.5 714.4L56.5 712.6L60.5 711.8L64.5 711.2L68.5 711.5L72.5 711.8L76.5 711.9L80.5 711.6L84.5 711L88.5 710L92.5 708.9L96.5 707.4L100.5 704.4L104.5 702.7L108.5 701.6L112.5 700.5L116.5 699.6L120.5 698.8L124.5 699.6L128.5 701.5L132.5 703.7L136.5 706.8L140.5 708.9L144.5 710.9L148.5 711.6L152.5 711.5L156.5 711.7L160.5 711.7L164.5 711.5L168.5 712.3L172.5 712.8L176.5 713L180.5 713.6L184.5 714.5L188.5 715L192.5 715.1L196.5 715.1L200.5 715.1L204.5 715.3L208.5 714.4L212.5 712.9L216.5 710.7L220.5 707.3L224.5 703.4L228.5 700.5L232.5 700.2L236.5 701.7L240.5 703.4L244.5 704.1L248.5 705.9L252.5 709.4L256.5 718.1L260.5 723.9L264.5 728.7L268.5 730L272.5 729.7L276.5 727.8L280.5 726.8L284.5 726.4L288.5 725.8L292.5 723.8L296.5 722.3L300.5 721.2L304.5 722L308.5 723.7L312.5 724.9L316.5 724.4L320.5 723.6L324.5 723.4L328.5 722.2L332.5 720L336.5 717.7L340.5 718.4L344.5 718.4L348.5 718.7L352.5 719.8L356.5 720.1L360.5 719.1L364.5 716.6L368.5 714.5L372.5 712.8L376.5 711.1L380.5 709.3L384.5 709L388.5 708.9L392.5 709.3L396.5 710.3L400.5 711.5L404.5 712.9L408.5 713.9L412.5 714.8L416.5 716L420.5 716L424.5 716.7L428.5 718.6L432.5 721L436.5 721.8L440.5 722L444.5 722.6L448.5 722.6L452.5 723.7L456.5 725.4L460.5 726.7L464.5 727.4L468.5 728.6L472.5 728.1L476.5 727.9L480.5 727.2L484.5 725.6L488.5 724.2L492.5 723.1L496.5 722.1L500.5 721.6L504.5 721.1L508.5 720.8L512.5 720.6L516.5 720.5L520.5 723.2L524.5 725.6L528.5 729L532.5 730.9L536.5 732.2L540.5 735.9L544.5 741L548.5 745L552.5 746.3L556.5 745.1L560.5 742.6L564.5 740L568.5 738.9L572.5 739.1L576.5 740.9L580.5 745.1L584.5 750.4L588.5 755.4L592.5 753.4L596.5 749.7L600.5 745.9L604.5 744.5L608.5 742.8L612.5 738.8L616.5 735.7L620.5 732.9L624.5 728.2L628.5 720.9L632.5 715.2L636.5 711.4L640.5 709.3L644.5 708.2L648.5 708.9L652.5 709.3L656.5 712.2L660.5 715.7L664.5 717.8L668.5 720.8L672.5 723.4L676.5 724.2L680.5 723.1L684.5 722.3L688.5 721.5L692.5 719.3L696.5 716.9L700.5 715.7L704.5 713.8L708.5 711.8L712.5 710.7L716.5 710.3L720.5 710.5L724.5 708.7L728.5 707.6L732.5 707.6L736.5 706.8L740.5 704.9L744.5 703.1L748.5 701.4L752.5 700.6L756.5 699.7L760.5 698.8L764.5 697.7L768.5 697.6L772.5 699.8L776.5 705L780.5 709.6L784.5 712.5L788.5 714.3L792.5 714.7L796.5 716L800.5 716.5L804.5 715.6L808.5 714.9L812.5 715.1L816.5 715.6L820.5 716.6L824.5 717.2L828.5 716.8L832.5 717L836.5 716.4L840.5 715L844.5 711L848.5 706.9L852.5 704.9L856.5 704.5L860.5 706L864.5 708.2L868.5 710.2L872.5 712.1L876.5 713.2L880.5 713.1L884.5 711.9L888.5 711.6L892.5 711.7L896.5 711.9L900.5 712.7L904.5 712.9L908.5 713.4L912.5 714.1L916.5 715.5L920.5 716.6L924.5 717.7L928.5 718.1L932.5 718.3L936.5 718L940.5 717L944.5 716.2L948.5 715.1L952.5 713.7L956.5 711.7L960.5 709.8L964.5 708.3L968.5 708.3L972.5 709.4L976.5 709.9L980.5 711.1L984.5 712.4L988.5 713L992.5 713.1L996.5 713.5L1000.5 714.3L1004.5 715.3L1008.5 716L1012.5 716.6L1016.5 716.8L1020.5 717L1024.5 714.8L1028.5 713L1032.5 712.4L1036.5 713.1L1040.5 714.5L1044.5 715.8L1048.5 716.2L1052.5 716.3L1056.5 716.1L1060.5 716.2L1064.5 717L1068.5 717.8L1072.5 718.5L1076.5 720.7L1080.5 722.5L1084.5 722.8L1088.5 722.1L1092.5 721.5L1096.5 721L1100.5 720.9L1104.5 720.8L1108.5 721L1112.5 721.5" stroke="#ff8c00" stroke-width="2" fill="none" stroke-linejoin="round" shape-rendering="crispEdges"/>
<text x="1171" y="680.6" fill="#000" stroke="#000" stroke-width="0.22" >119.5334</text>
<text x="1171" y="719.8" fill="#000" stroke="#000" stroke-width="0.22" >0.00</text>
<text x="1171" y="782" fill="#000" stroke="#000" stroke-width="0.22" >-182.6615</text>
<ellipse cx="1111.5" cy="723.5" rx="44" ry="41.3" fill="none" stroke="#f25a5a" stroke-width="1.9"/>
<g shape-rendering="crispEdges" fill="#000">
<rect x="4" y="786" width="1" height="3"/>
<rect x="68" y="786" width="1" height="3"/>
<rect x="132" y="786" width="1" height="3"/>
<rect x="196" y="786" width="1" height="3"/>
<rect x="260" y="786" width="1" height="3"/>
<rect x="324" y="786" width="1" height="3"/>
<rect x="388" y="786" width="1" height="3"/>
<rect x="452" y="786" width="1" height="3"/>
<rect x="516" y="786" width="1" height="3"/>
<rect x="580" y="786" width="1" height="3"/>
<rect x="644" y="786" width="1" height="3"/>
<rect x="708" y="786" width="1" height="3"/>
<rect x="772" y="786" width="1" height="3"/>
<rect x="836" y="786" width="1" height="3"/>
<rect x="900" y="786" width="1" height="3"/>
<rect x="964" y="786" width="1" height="3"/>
<rect x="1028" y="786" width="1" height="3"/>
<rect x="1092" y="786" width="1" height="3"/>
</g>
<text x="4" y="797.6" fill="#000" stroke="#000" stroke-width="0.22" >17 Feb 01:00</text>
<text x="68" y="797.6" fill="#000" stroke="#000" stroke-width="0.22" >19 Feb 17:00</text>
<text x="132" y="797.6" fill="#000" stroke="#000" stroke-width="0.22" >24 Feb 09:00</text>
<text x="196" y="797.6" fill="#000" stroke="#000" stroke-width="0.22" >27 Feb 01:00</text>
<text x="260" y="797.6" fill="#000" stroke="#000" stroke-width="0.22" >3 Mar 17:00</text>
<text x="324" y="797.6" fill="#000" stroke="#000" stroke-width="0.22" >6 Mar 09:00</text>
<text x="388" y="797.6" fill="#000" stroke="#000" stroke-width="0.22" >11 Mar 01:00</text>
<text x="452" y="797.6" fill="#000" stroke="#000" stroke-width="0.22" >13 Mar 17:00</text>
<text x="516" y="797.6" fill="#000" stroke="#000" stroke-width="0.22" >18 Mar 09:00</text>
<text x="580" y="797.6" fill="#000" stroke="#000" stroke-width="0.22" >23 Mar 01:00</text>
<text x="644" y="797.6" fill="#000" stroke="#000" stroke-width="0.22" >25 Mar 17:00</text>
<text x="708" y="797.6" fill="#000" stroke="#000" stroke-width="0.22" >30 Mar 09:00</text>
<text x="772" y="797.6" fill="#000" stroke="#000" stroke-width="0.22" >2 Apr 01:00</text>
<text x="836" y="797.6" fill="#000" stroke="#000" stroke-width="0.22" >7 Apr 17:00</text>
<text x="900" y="797.6" fill="#000" stroke="#000" stroke-width="0.22" >10 Apr 09:00</text>
<text x="964" y="797.6" fill="#000" stroke="#000" stroke-width="0.22" >15 Apr 01:00</text>
<text x="1028" y="797.6" fill="#000" stroke="#000" stroke-width="0.22" >17 Apr 17:00</text>
<text x="1092" y="797.6" fill="#000" stroke="#000" stroke-width="0.22" >22 Apr 09:00</text>
<rect x="1213" y="0" width="1" height="802" fill="#eeeeee"/><rect x="1214" y="0" width="1" height="802" fill="#f3f3f3"/>
</svg>
</body></html>
